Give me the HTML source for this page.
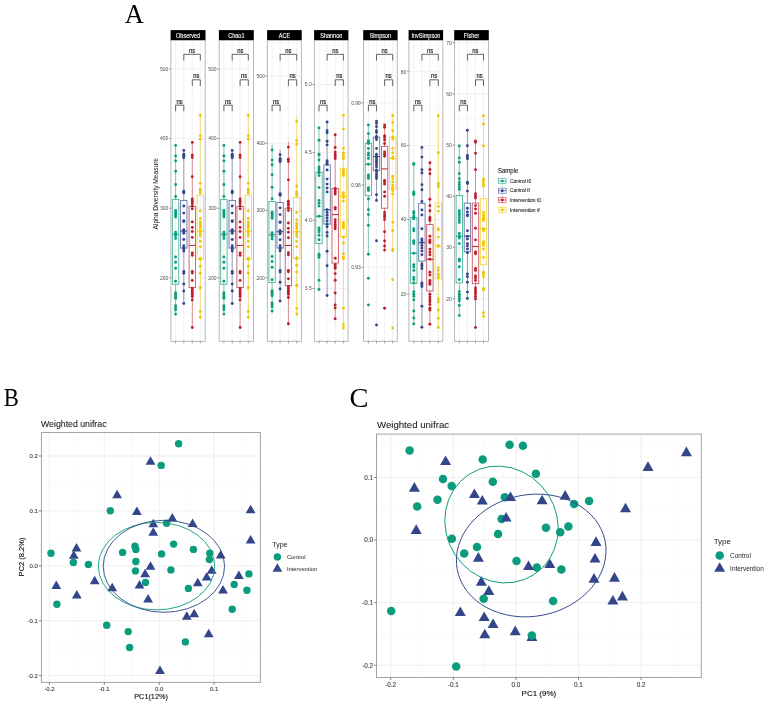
<!DOCTYPE html><html><head><meta charset="utf-8"><style>html,body{margin:0;padding:0;background:#fff;width:768px;height:704px;overflow:hidden}svg{display:block;will-change:transform}</style></head><body>
<svg width="768" height="704" viewBox="0 0 768 704" font-family="Liberation Sans, sans-serif">
<rect width="768" height="704" fill="#fff"/>
<text transform="translate(124.8 22.7) scale(0.975 1)" font-family="Liberation Serif, serif" font-size="27.2" fill="#000">A</text>
<text transform="translate(3.8 405.6) scale(0.875 1)" font-family="Liberation Serif, serif" font-size="26" fill="#000">B</text>
<text transform="translate(349.4 407.0) scale(1.03 1)" font-family="Liberation Serif, serif" font-size="27.6" fill="#000">C</text>
<line x1="170.9" y1="103.8" x2="205.2" y2="103.8" stroke="#F3F3F3" stroke-width="0.5"/>
<line x1="170.9" y1="173.4" x2="205.2" y2="173.4" stroke="#F3F3F3" stroke-width="0.5"/>
<line x1="170.9" y1="243" x2="205.2" y2="243" stroke="#F3F3F3" stroke-width="0.5"/>
<line x1="170.9" y1="312.6" x2="205.2" y2="312.6" stroke="#F3F3F3" stroke-width="0.5"/>
<line x1="170.9" y1="69" x2="205.2" y2="69" stroke="#EBEBEB" stroke-width="0.7"/>
<line x1="170.9" y1="138.6" x2="205.2" y2="138.6" stroke="#EBEBEB" stroke-width="0.7"/>
<line x1="170.9" y1="208.2" x2="205.2" y2="208.2" stroke="#EBEBEB" stroke-width="0.7"/>
<line x1="170.9" y1="277.8" x2="205.2" y2="277.8" stroke="#EBEBEB" stroke-width="0.7"/>
<line x1="175.6" y1="40.5" x2="175.6" y2="341.3" stroke="#EBEBEB" stroke-width="0.7"/>
<line x1="183.8" y1="40.5" x2="183.8" y2="341.3" stroke="#EBEBEB" stroke-width="0.7"/>
<line x1="192.3" y1="40.5" x2="192.3" y2="341.3" stroke="#EBEBEB" stroke-width="0.7"/>
<line x1="200.3" y1="40.5" x2="200.3" y2="341.3" stroke="#EBEBEB" stroke-width="0.7"/>
<rect x="170.6" y="30.1" width="34.9" height="10.4" fill="#000"/>
<text transform="translate(188.05 38.0) scale(1 1.15)" font-size="5.55" fill="#fff" stroke="#fff" stroke-width="0.1" text-anchor="middle">Observed</text>
<rect x="170.9" y="40.5" width="34.3" height="300.8" fill="none" stroke="#B8B8B8" stroke-width="1"/>
<line x1="168.9" y1="69" x2="170.9" y2="69" stroke="#555" stroke-width="0.6"/>
<text x="168.3" y="70.8" font-size="5" fill="#4D4D4D" text-anchor="end">500</text>
<line x1="168.9" y1="138.6" x2="170.9" y2="138.6" stroke="#555" stroke-width="0.6"/>
<text x="168.3" y="140.4" font-size="5" fill="#4D4D4D" text-anchor="end">400</text>
<line x1="168.9" y1="208.2" x2="170.9" y2="208.2" stroke="#555" stroke-width="0.6"/>
<text x="168.3" y="210" font-size="5" fill="#4D4D4D" text-anchor="end">300</text>
<line x1="168.9" y1="277.8" x2="170.9" y2="277.8" stroke="#555" stroke-width="0.6"/>
<text x="168.3" y="279.6" font-size="5" fill="#4D4D4D" text-anchor="end">200</text>
<line x1="175.6" y1="341.3" x2="175.6" y2="343.3" stroke="#555" stroke-width="0.6"/>
<line x1="183.8" y1="341.3" x2="183.8" y2="343.3" stroke="#555" stroke-width="0.6"/>
<line x1="192.3" y1="341.3" x2="192.3" y2="343.3" stroke="#555" stroke-width="0.6"/>
<line x1="200.3" y1="341.3" x2="200.3" y2="343.3" stroke="#555" stroke-width="0.6"/>
<path d="M183.8 60.6V54.3H200.3V60.6" fill="none" stroke="#333" stroke-width="0.75"/>
<text transform="translate(192.05 53) scale(1 1.22)" font-size="5.9" fill="#111" stroke="#111" stroke-width="0.12" text-anchor="middle">ns</text>
<path d="M192.3 86V79.8H200.3V86" fill="none" stroke="#333" stroke-width="0.75"/>
<text transform="translate(196.3 78.3) scale(1 1.22)" font-size="5.9" fill="#111" stroke="#111" stroke-width="0.12" text-anchor="middle">ns</text>
<path d="M175.6 111.3V105.2H183.8V111.3" fill="none" stroke="#333" stroke-width="0.75"/>
<text transform="translate(179.7 103.8) scale(1 1.22)" font-size="5.9" fill="#111" stroke="#111" stroke-width="0.12" text-anchor="middle">ns</text>
<line x1="175.6" y1="145.4" x2="175.6" y2="199.4" stroke="#0A9C7D" stroke-width="0.9" stroke-opacity="0.55"/>
<line x1="175.6" y1="284.3" x2="175.6" y2="314.1" stroke="#0A9C7D" stroke-width="0.9" stroke-opacity="0.55"/>
<rect x="172.4" y="199.4" width="6.4" height="84.9" fill="none" stroke="#0A9C7D" stroke-width="0.9" stroke-opacity="0.75"/>
<line x1="172.4" y1="234.2" x2="178.8" y2="234.2" stroke="#0A9C7D" stroke-width="1"/>
<circle cx="175.6" cy="145.4" r="1.45" fill="#0A9C7D"/>
<circle cx="175.6" cy="156" r="1.45" fill="#0A9C7D"/>
<circle cx="175.6" cy="160.9" r="1.45" fill="#0A9C7D"/>
<circle cx="175.6" cy="171.3" r="1.45" fill="#0A9C7D"/>
<circle cx="175.6" cy="184.5" r="1.45" fill="#0A9C7D"/>
<circle cx="175.6" cy="196.4" r="1.45" fill="#0A9C7D"/>
<circle cx="175.6" cy="210.5" r="1.45" fill="#0A9C7D"/>
<circle cx="175.6" cy="212" r="1.45" fill="#0A9C7D"/>
<circle cx="175.6" cy="213.5" r="1.45" fill="#0A9C7D"/>
<circle cx="175.6" cy="215" r="1.45" fill="#0A9C7D"/>
<circle cx="175.6" cy="217" r="1.45" fill="#0A9C7D"/>
<circle cx="175.6" cy="232.1" r="1.45" fill="#0A9C7D"/>
<circle cx="175.6" cy="234" r="1.45" fill="#0A9C7D"/>
<circle cx="175.6" cy="236" r="1.45" fill="#0A9C7D"/>
<circle cx="175.6" cy="238.6" r="1.45" fill="#0A9C7D"/>
<circle cx="175.6" cy="257" r="1.45" fill="#0A9C7D"/>
<circle cx="175.6" cy="262.3" r="1.45" fill="#0A9C7D"/>
<circle cx="175.6" cy="268.3" r="1.45" fill="#0A9C7D"/>
<circle cx="175.6" cy="281.3" r="1.45" fill="#0A9C7D"/>
<circle cx="175.6" cy="292.8" r="1.45" fill="#0A9C7D"/>
<circle cx="175.6" cy="294.5" r="1.45" fill="#0A9C7D"/>
<circle cx="175.6" cy="296.5" r="1.45" fill="#0A9C7D"/>
<circle cx="175.6" cy="298.2" r="1.45" fill="#0A9C7D"/>
<circle cx="175.6" cy="305.6" r="1.45" fill="#0A9C7D"/>
<circle cx="175.6" cy="307.5" r="1.45" fill="#0A9C7D"/>
<circle cx="175.6" cy="309.7" r="1.45" fill="#0A9C7D"/>
<circle cx="175.6" cy="314.1" r="1.45" fill="#0A9C7D"/>
<line x1="183.8" y1="150.4" x2="183.8" y2="200.4" stroke="#33468A" stroke-width="0.9" stroke-opacity="0.55"/>
<line x1="183.8" y1="248.1" x2="183.8" y2="303.5" stroke="#33468A" stroke-width="0.9" stroke-opacity="0.55"/>
<rect x="180.6" y="200.4" width="6.4" height="47.7" fill="none" stroke="#33468A" stroke-width="0.9" stroke-opacity="0.75"/>
<line x1="180.6" y1="231" x2="187" y2="231" stroke="#33468A" stroke-width="1"/>
<circle cx="183.8" cy="150.4" r="1.45" fill="#33468A"/>
<circle cx="183.8" cy="154.2" r="1.45" fill="#33468A"/>
<circle cx="183.8" cy="155.4" r="1.45" fill="#33468A"/>
<circle cx="183.8" cy="156.5" r="1.45" fill="#33468A"/>
<circle cx="183.8" cy="157.7" r="1.45" fill="#33468A"/>
<circle cx="183.8" cy="191.1" r="1.45" fill="#33468A"/>
<circle cx="183.8" cy="192" r="1.45" fill="#33468A"/>
<circle cx="183.8" cy="192.9" r="1.45" fill="#33468A"/>
<circle cx="183.8" cy="206" r="1.45" fill="#33468A"/>
<circle cx="183.8" cy="213.1" r="1.45" fill="#33468A"/>
<circle cx="183.8" cy="220.7" r="1.45" fill="#33468A"/>
<circle cx="183.8" cy="221.5" r="1.45" fill="#33468A"/>
<circle cx="183.8" cy="229.8" r="1.45" fill="#33468A"/>
<circle cx="183.8" cy="231" r="1.45" fill="#33468A"/>
<circle cx="183.8" cy="232" r="1.45" fill="#33468A"/>
<circle cx="183.8" cy="233.3" r="1.45" fill="#33468A"/>
<circle cx="183.8" cy="239.5" r="1.45" fill="#33468A"/>
<circle cx="183.8" cy="245.8" r="1.45" fill="#33468A"/>
<circle cx="183.8" cy="247.5" r="1.45" fill="#33468A"/>
<circle cx="183.8" cy="249" r="1.45" fill="#33468A"/>
<circle cx="183.8" cy="251" r="1.45" fill="#33468A"/>
<circle cx="183.8" cy="271.5" r="1.45" fill="#33468A"/>
<circle cx="183.8" cy="273.3" r="1.45" fill="#33468A"/>
<circle cx="183.8" cy="284" r="1.45" fill="#33468A"/>
<circle cx="183.8" cy="291" r="1.45" fill="#33468A"/>
<circle cx="183.8" cy="303.5" r="1.45" fill="#33468A"/>
<line x1="192.3" y1="142.4" x2="192.3" y2="206.4" stroke="#BA1E2E" stroke-width="0.9" stroke-opacity="0.55"/>
<line x1="192.3" y1="287.5" x2="192.3" y2="327.5" stroke="#BA1E2E" stroke-width="0.9" stroke-opacity="0.55"/>
<rect x="189.1" y="206.4" width="6.4" height="81.1" fill="none" stroke="#BA1E2E" stroke-width="0.9" stroke-opacity="0.75"/>
<line x1="189.1" y1="245.4" x2="195.5" y2="245.4" stroke="#BA1E2E" stroke-width="1"/>
<circle cx="192.3" cy="142.4" r="1.45" fill="#BA1E2E"/>
<circle cx="192.3" cy="155.1" r="1.45" fill="#BA1E2E"/>
<circle cx="192.3" cy="157.4" r="1.45" fill="#BA1E2E"/>
<circle cx="192.3" cy="176.7" r="1.45" fill="#BA1E2E"/>
<circle cx="192.3" cy="199" r="1.45" fill="#BA1E2E"/>
<circle cx="192.3" cy="201.3" r="1.45" fill="#BA1E2E"/>
<circle cx="192.3" cy="203.4" r="1.45" fill="#BA1E2E"/>
<circle cx="192.3" cy="206" r="1.45" fill="#BA1E2E"/>
<circle cx="192.3" cy="208.7" r="1.45" fill="#BA1E2E"/>
<circle cx="192.3" cy="221.9" r="1.45" fill="#BA1E2E"/>
<circle cx="192.3" cy="227.5" r="1.45" fill="#BA1E2E"/>
<circle cx="192.3" cy="231.5" r="1.45" fill="#BA1E2E"/>
<circle cx="192.3" cy="237.4" r="1.45" fill="#BA1E2E"/>
<circle cx="192.3" cy="252.9" r="1.45" fill="#BA1E2E"/>
<circle cx="192.3" cy="255.2" r="1.45" fill="#BA1E2E"/>
<circle cx="192.3" cy="271.5" r="1.45" fill="#BA1E2E"/>
<circle cx="192.3" cy="273" r="1.45" fill="#BA1E2E"/>
<circle cx="192.3" cy="280.4" r="1.45" fill="#BA1E2E"/>
<circle cx="192.3" cy="288.4" r="1.45" fill="#BA1E2E"/>
<circle cx="192.3" cy="290.5" r="1.45" fill="#BA1E2E"/>
<circle cx="192.3" cy="292.5" r="1.45" fill="#BA1E2E"/>
<circle cx="192.3" cy="294.5" r="1.45" fill="#BA1E2E"/>
<circle cx="192.3" cy="296.5" r="1.45" fill="#BA1E2E"/>
<circle cx="192.3" cy="299.9" r="1.45" fill="#BA1E2E"/>
<circle cx="192.3" cy="327.5" r="1.45" fill="#BA1E2E"/>
<line x1="200.3" y1="115.5" x2="200.3" y2="195.2" stroke="#F2C500" stroke-width="0.9" stroke-opacity="0.55"/>
<line x1="200.3" y1="259.4" x2="200.3" y2="317.3" stroke="#F2C500" stroke-width="0.9" stroke-opacity="0.55"/>
<rect x="197.1" y="195.2" width="6.4" height="64.2" fill="none" stroke="#F2C500" stroke-width="0.9" stroke-opacity="0.75"/>
<line x1="197.1" y1="231" x2="203.5" y2="231" stroke="#F2C500" stroke-width="1"/>
<circle cx="200.3" cy="115.5" r="1.45" fill="#F2C500"/>
<circle cx="200.3" cy="135.8" r="1.45" fill="#F2C500"/>
<circle cx="200.3" cy="139.3" r="1.45" fill="#F2C500"/>
<circle cx="200.3" cy="183.2" r="1.45" fill="#F2C500"/>
<circle cx="200.3" cy="189.4" r="1.45" fill="#F2C500"/>
<circle cx="200.3" cy="191" r="1.45" fill="#F2C500"/>
<circle cx="200.3" cy="192.9" r="1.45" fill="#F2C500"/>
<circle cx="200.3" cy="210.8" r="1.45" fill="#F2C500"/>
<circle cx="200.3" cy="218.4" r="1.45" fill="#F2C500"/>
<circle cx="200.3" cy="221.9" r="1.45" fill="#F2C500"/>
<circle cx="200.3" cy="224" r="1.45" fill="#F2C500"/>
<circle cx="200.3" cy="226" r="1.45" fill="#F2C500"/>
<circle cx="200.3" cy="228" r="1.45" fill="#F2C500"/>
<circle cx="200.3" cy="231" r="1.45" fill="#F2C500"/>
<circle cx="200.3" cy="233.5" r="1.45" fill="#F2C500"/>
<circle cx="200.3" cy="236" r="1.45" fill="#F2C500"/>
<circle cx="200.3" cy="241.3" r="1.45" fill="#F2C500"/>
<circle cx="200.3" cy="246.6" r="1.45" fill="#F2C500"/>
<circle cx="200.3" cy="258.2" r="1.45" fill="#F2C500"/>
<circle cx="200.3" cy="259.4" r="1.45" fill="#F2C500"/>
<circle cx="200.3" cy="266.2" r="1.45" fill="#F2C500"/>
<circle cx="200.3" cy="273.3" r="1.45" fill="#F2C500"/>
<circle cx="200.3" cy="287.1" r="1.45" fill="#F2C500"/>
<circle cx="200.3" cy="287.9" r="1.45" fill="#F2C500"/>
<circle cx="200.3" cy="311.5" r="1.45" fill="#F2C500"/>
<circle cx="200.3" cy="317.3" r="1.45" fill="#F2C500"/>
<line x1="219.2" y1="103.8" x2="253.5" y2="103.8" stroke="#F3F3F3" stroke-width="0.5"/>
<line x1="219.2" y1="173.4" x2="253.5" y2="173.4" stroke="#F3F3F3" stroke-width="0.5"/>
<line x1="219.2" y1="243" x2="253.5" y2="243" stroke="#F3F3F3" stroke-width="0.5"/>
<line x1="219.2" y1="312.6" x2="253.5" y2="312.6" stroke="#F3F3F3" stroke-width="0.5"/>
<line x1="219.2" y1="69" x2="253.5" y2="69" stroke="#EBEBEB" stroke-width="0.7"/>
<line x1="219.2" y1="138.6" x2="253.5" y2="138.6" stroke="#EBEBEB" stroke-width="0.7"/>
<line x1="219.2" y1="208.2" x2="253.5" y2="208.2" stroke="#EBEBEB" stroke-width="0.7"/>
<line x1="219.2" y1="277.8" x2="253.5" y2="277.8" stroke="#EBEBEB" stroke-width="0.7"/>
<line x1="223.9" y1="40.5" x2="223.9" y2="341.3" stroke="#EBEBEB" stroke-width="0.7"/>
<line x1="232.2" y1="40.5" x2="232.2" y2="341.3" stroke="#EBEBEB" stroke-width="0.7"/>
<line x1="240.1" y1="40.5" x2="240.1" y2="341.3" stroke="#EBEBEB" stroke-width="0.7"/>
<line x1="248.3" y1="40.5" x2="248.3" y2="341.3" stroke="#EBEBEB" stroke-width="0.7"/>
<rect x="218.9" y="30.1" width="34.9" height="10.4" fill="#000"/>
<text transform="translate(236.35 38.0) scale(1 1.15)" font-size="5.55" fill="#fff" stroke="#fff" stroke-width="0.1" text-anchor="middle">Chao1</text>
<rect x="219.2" y="40.5" width="34.3" height="300.8" fill="none" stroke="#B8B8B8" stroke-width="1"/>
<line x1="217.2" y1="69" x2="219.2" y2="69" stroke="#555" stroke-width="0.6"/>
<text x="216.6" y="70.8" font-size="5" fill="#4D4D4D" text-anchor="end">500</text>
<line x1="217.2" y1="138.6" x2="219.2" y2="138.6" stroke="#555" stroke-width="0.6"/>
<text x="216.6" y="140.4" font-size="5" fill="#4D4D4D" text-anchor="end">400</text>
<line x1="217.2" y1="208.2" x2="219.2" y2="208.2" stroke="#555" stroke-width="0.6"/>
<text x="216.6" y="210" font-size="5" fill="#4D4D4D" text-anchor="end">300</text>
<line x1="217.2" y1="277.8" x2="219.2" y2="277.8" stroke="#555" stroke-width="0.6"/>
<text x="216.6" y="279.6" font-size="5" fill="#4D4D4D" text-anchor="end">200</text>
<line x1="223.9" y1="341.3" x2="223.9" y2="343.3" stroke="#555" stroke-width="0.6"/>
<line x1="232.2" y1="341.3" x2="232.2" y2="343.3" stroke="#555" stroke-width="0.6"/>
<line x1="240.1" y1="341.3" x2="240.1" y2="343.3" stroke="#555" stroke-width="0.6"/>
<line x1="248.3" y1="341.3" x2="248.3" y2="343.3" stroke="#555" stroke-width="0.6"/>
<path d="M232.2 60.6V54.3H248.3V60.6" fill="none" stroke="#333" stroke-width="0.75"/>
<text transform="translate(240.25 53) scale(1 1.22)" font-size="5.9" fill="#111" stroke="#111" stroke-width="0.12" text-anchor="middle">ns</text>
<path d="M240.1 86V79.8H248.3V86" fill="none" stroke="#333" stroke-width="0.75"/>
<text transform="translate(244.2 78.3) scale(1 1.22)" font-size="5.9" fill="#111" stroke="#111" stroke-width="0.12" text-anchor="middle">ns</text>
<path d="M223.9 111.3V105.2H232.2V111.3" fill="none" stroke="#333" stroke-width="0.75"/>
<text transform="translate(228.05 103.8) scale(1 1.22)" font-size="5.9" fill="#111" stroke="#111" stroke-width="0.12" text-anchor="middle">ns</text>
<line x1="223.9" y1="145.4" x2="223.9" y2="199.4" stroke="#0A9C7D" stroke-width="0.9" stroke-opacity="0.55"/>
<line x1="223.9" y1="284.3" x2="223.9" y2="314.1" stroke="#0A9C7D" stroke-width="0.9" stroke-opacity="0.55"/>
<rect x="220.7" y="199.4" width="6.4" height="84.9" fill="none" stroke="#0A9C7D" stroke-width="0.9" stroke-opacity="0.75"/>
<line x1="220.7" y1="234.2" x2="227.1" y2="234.2" stroke="#0A9C7D" stroke-width="1"/>
<circle cx="223.9" cy="145.4" r="1.45" fill="#0A9C7D"/>
<circle cx="223.9" cy="156" r="1.45" fill="#0A9C7D"/>
<circle cx="223.9" cy="160.9" r="1.45" fill="#0A9C7D"/>
<circle cx="223.9" cy="171.3" r="1.45" fill="#0A9C7D"/>
<circle cx="223.9" cy="184.5" r="1.45" fill="#0A9C7D"/>
<circle cx="223.9" cy="196.4" r="1.45" fill="#0A9C7D"/>
<circle cx="223.9" cy="210.5" r="1.45" fill="#0A9C7D"/>
<circle cx="223.9" cy="212" r="1.45" fill="#0A9C7D"/>
<circle cx="223.9" cy="213.5" r="1.45" fill="#0A9C7D"/>
<circle cx="223.9" cy="215" r="1.45" fill="#0A9C7D"/>
<circle cx="223.9" cy="217" r="1.45" fill="#0A9C7D"/>
<circle cx="223.9" cy="232.1" r="1.45" fill="#0A9C7D"/>
<circle cx="223.9" cy="234" r="1.45" fill="#0A9C7D"/>
<circle cx="223.9" cy="236" r="1.45" fill="#0A9C7D"/>
<circle cx="223.9" cy="238.6" r="1.45" fill="#0A9C7D"/>
<circle cx="223.9" cy="257" r="1.45" fill="#0A9C7D"/>
<circle cx="223.9" cy="262.3" r="1.45" fill="#0A9C7D"/>
<circle cx="223.9" cy="268.3" r="1.45" fill="#0A9C7D"/>
<circle cx="223.9" cy="281.3" r="1.45" fill="#0A9C7D"/>
<circle cx="223.9" cy="292.8" r="1.45" fill="#0A9C7D"/>
<circle cx="223.9" cy="294.5" r="1.45" fill="#0A9C7D"/>
<circle cx="223.9" cy="296.5" r="1.45" fill="#0A9C7D"/>
<circle cx="223.9" cy="298.2" r="1.45" fill="#0A9C7D"/>
<circle cx="223.9" cy="305.6" r="1.45" fill="#0A9C7D"/>
<circle cx="223.9" cy="307.5" r="1.45" fill="#0A9C7D"/>
<circle cx="223.9" cy="309.7" r="1.45" fill="#0A9C7D"/>
<circle cx="223.9" cy="314.1" r="1.45" fill="#0A9C7D"/>
<line x1="232.2" y1="150.4" x2="232.2" y2="200.4" stroke="#33468A" stroke-width="0.9" stroke-opacity="0.55"/>
<line x1="232.2" y1="248.1" x2="232.2" y2="303.5" stroke="#33468A" stroke-width="0.9" stroke-opacity="0.55"/>
<rect x="229" y="200.4" width="6.4" height="47.7" fill="none" stroke="#33468A" stroke-width="0.9" stroke-opacity="0.75"/>
<line x1="229" y1="231" x2="235.4" y2="231" stroke="#33468A" stroke-width="1"/>
<circle cx="232.2" cy="150.4" r="1.45" fill="#33468A"/>
<circle cx="232.2" cy="154.2" r="1.45" fill="#33468A"/>
<circle cx="232.2" cy="155.4" r="1.45" fill="#33468A"/>
<circle cx="232.2" cy="156.5" r="1.45" fill="#33468A"/>
<circle cx="232.2" cy="157.7" r="1.45" fill="#33468A"/>
<circle cx="232.2" cy="191.1" r="1.45" fill="#33468A"/>
<circle cx="232.2" cy="192" r="1.45" fill="#33468A"/>
<circle cx="232.2" cy="192.9" r="1.45" fill="#33468A"/>
<circle cx="232.2" cy="206" r="1.45" fill="#33468A"/>
<circle cx="232.2" cy="213.1" r="1.45" fill="#33468A"/>
<circle cx="232.2" cy="220.7" r="1.45" fill="#33468A"/>
<circle cx="232.2" cy="221.5" r="1.45" fill="#33468A"/>
<circle cx="232.2" cy="229.8" r="1.45" fill="#33468A"/>
<circle cx="232.2" cy="231" r="1.45" fill="#33468A"/>
<circle cx="232.2" cy="232" r="1.45" fill="#33468A"/>
<circle cx="232.2" cy="233.3" r="1.45" fill="#33468A"/>
<circle cx="232.2" cy="239.5" r="1.45" fill="#33468A"/>
<circle cx="232.2" cy="245.8" r="1.45" fill="#33468A"/>
<circle cx="232.2" cy="247.5" r="1.45" fill="#33468A"/>
<circle cx="232.2" cy="249" r="1.45" fill="#33468A"/>
<circle cx="232.2" cy="251" r="1.45" fill="#33468A"/>
<circle cx="232.2" cy="271.5" r="1.45" fill="#33468A"/>
<circle cx="232.2" cy="273.3" r="1.45" fill="#33468A"/>
<circle cx="232.2" cy="284" r="1.45" fill="#33468A"/>
<circle cx="232.2" cy="291" r="1.45" fill="#33468A"/>
<circle cx="232.2" cy="303.5" r="1.45" fill="#33468A"/>
<line x1="240.1" y1="142.4" x2="240.1" y2="206.4" stroke="#BA1E2E" stroke-width="0.9" stroke-opacity="0.55"/>
<line x1="240.1" y1="287.5" x2="240.1" y2="327.5" stroke="#BA1E2E" stroke-width="0.9" stroke-opacity="0.55"/>
<rect x="236.9" y="206.4" width="6.4" height="81.1" fill="none" stroke="#BA1E2E" stroke-width="0.9" stroke-opacity="0.75"/>
<line x1="236.9" y1="245.4" x2="243.3" y2="245.4" stroke="#BA1E2E" stroke-width="1"/>
<circle cx="240.1" cy="142.4" r="1.45" fill="#BA1E2E"/>
<circle cx="240.1" cy="155.1" r="1.45" fill="#BA1E2E"/>
<circle cx="240.1" cy="157.4" r="1.45" fill="#BA1E2E"/>
<circle cx="240.1" cy="176.7" r="1.45" fill="#BA1E2E"/>
<circle cx="240.1" cy="199" r="1.45" fill="#BA1E2E"/>
<circle cx="240.1" cy="201.3" r="1.45" fill="#BA1E2E"/>
<circle cx="240.1" cy="203.4" r="1.45" fill="#BA1E2E"/>
<circle cx="240.1" cy="206" r="1.45" fill="#BA1E2E"/>
<circle cx="240.1" cy="208.7" r="1.45" fill="#BA1E2E"/>
<circle cx="240.1" cy="221.9" r="1.45" fill="#BA1E2E"/>
<circle cx="240.1" cy="227.5" r="1.45" fill="#BA1E2E"/>
<circle cx="240.1" cy="231.5" r="1.45" fill="#BA1E2E"/>
<circle cx="240.1" cy="237.4" r="1.45" fill="#BA1E2E"/>
<circle cx="240.1" cy="252.9" r="1.45" fill="#BA1E2E"/>
<circle cx="240.1" cy="255.2" r="1.45" fill="#BA1E2E"/>
<circle cx="240.1" cy="271.5" r="1.45" fill="#BA1E2E"/>
<circle cx="240.1" cy="273" r="1.45" fill="#BA1E2E"/>
<circle cx="240.1" cy="280.4" r="1.45" fill="#BA1E2E"/>
<circle cx="240.1" cy="288.4" r="1.45" fill="#BA1E2E"/>
<circle cx="240.1" cy="290.5" r="1.45" fill="#BA1E2E"/>
<circle cx="240.1" cy="292.5" r="1.45" fill="#BA1E2E"/>
<circle cx="240.1" cy="294.5" r="1.45" fill="#BA1E2E"/>
<circle cx="240.1" cy="296.5" r="1.45" fill="#BA1E2E"/>
<circle cx="240.1" cy="299.9" r="1.45" fill="#BA1E2E"/>
<circle cx="240.1" cy="327.5" r="1.45" fill="#BA1E2E"/>
<line x1="248.3" y1="115.5" x2="248.3" y2="195.2" stroke="#F2C500" stroke-width="0.9" stroke-opacity="0.55"/>
<line x1="248.3" y1="259.4" x2="248.3" y2="317.3" stroke="#F2C500" stroke-width="0.9" stroke-opacity="0.55"/>
<rect x="245.1" y="195.2" width="6.4" height="64.2" fill="none" stroke="#F2C500" stroke-width="0.9" stroke-opacity="0.75"/>
<line x1="245.1" y1="231" x2="251.5" y2="231" stroke="#F2C500" stroke-width="1"/>
<circle cx="248.3" cy="115.5" r="1.45" fill="#F2C500"/>
<circle cx="248.3" cy="135.8" r="1.45" fill="#F2C500"/>
<circle cx="248.3" cy="139.3" r="1.45" fill="#F2C500"/>
<circle cx="248.3" cy="183.2" r="1.45" fill="#F2C500"/>
<circle cx="248.3" cy="189.4" r="1.45" fill="#F2C500"/>
<circle cx="248.3" cy="191" r="1.45" fill="#F2C500"/>
<circle cx="248.3" cy="192.9" r="1.45" fill="#F2C500"/>
<circle cx="248.3" cy="210.8" r="1.45" fill="#F2C500"/>
<circle cx="248.3" cy="218.4" r="1.45" fill="#F2C500"/>
<circle cx="248.3" cy="221.9" r="1.45" fill="#F2C500"/>
<circle cx="248.3" cy="224" r="1.45" fill="#F2C500"/>
<circle cx="248.3" cy="226" r="1.45" fill="#F2C500"/>
<circle cx="248.3" cy="228" r="1.45" fill="#F2C500"/>
<circle cx="248.3" cy="231" r="1.45" fill="#F2C500"/>
<circle cx="248.3" cy="233.5" r="1.45" fill="#F2C500"/>
<circle cx="248.3" cy="236" r="1.45" fill="#F2C500"/>
<circle cx="248.3" cy="241.3" r="1.45" fill="#F2C500"/>
<circle cx="248.3" cy="246.6" r="1.45" fill="#F2C500"/>
<circle cx="248.3" cy="258.2" r="1.45" fill="#F2C500"/>
<circle cx="248.3" cy="259.4" r="1.45" fill="#F2C500"/>
<circle cx="248.3" cy="266.2" r="1.45" fill="#F2C500"/>
<circle cx="248.3" cy="273.3" r="1.45" fill="#F2C500"/>
<circle cx="248.3" cy="287.1" r="1.45" fill="#F2C500"/>
<circle cx="248.3" cy="287.9" r="1.45" fill="#F2C500"/>
<circle cx="248.3" cy="311.5" r="1.45" fill="#F2C500"/>
<circle cx="248.3" cy="317.3" r="1.45" fill="#F2C500"/>
<line x1="267.4" y1="42.5" x2="301.4" y2="42.5" stroke="#F3F3F3" stroke-width="0.5"/>
<line x1="267.4" y1="109.7" x2="301.4" y2="109.7" stroke="#F3F3F3" stroke-width="0.5"/>
<line x1="267.4" y1="176.9" x2="301.4" y2="176.9" stroke="#F3F3F3" stroke-width="0.5"/>
<line x1="267.4" y1="244.1" x2="301.4" y2="244.1" stroke="#F3F3F3" stroke-width="0.5"/>
<line x1="267.4" y1="311.3" x2="301.4" y2="311.3" stroke="#F3F3F3" stroke-width="0.5"/>
<line x1="267.4" y1="76.1" x2="301.4" y2="76.1" stroke="#EBEBEB" stroke-width="0.7"/>
<line x1="267.4" y1="143.3" x2="301.4" y2="143.3" stroke="#EBEBEB" stroke-width="0.7"/>
<line x1="267.4" y1="210.5" x2="301.4" y2="210.5" stroke="#EBEBEB" stroke-width="0.7"/>
<line x1="267.4" y1="277.7" x2="301.4" y2="277.7" stroke="#EBEBEB" stroke-width="0.7"/>
<line x1="272.1" y1="40.5" x2="272.1" y2="341.3" stroke="#EBEBEB" stroke-width="0.7"/>
<line x1="280.1" y1="40.5" x2="280.1" y2="341.3" stroke="#EBEBEB" stroke-width="0.7"/>
<line x1="288.4" y1="40.5" x2="288.4" y2="341.3" stroke="#EBEBEB" stroke-width="0.7"/>
<line x1="296.7" y1="40.5" x2="296.7" y2="341.3" stroke="#EBEBEB" stroke-width="0.7"/>
<rect x="267.1" y="30.1" width="34.6" height="10.4" fill="#000"/>
<text transform="translate(284.4 38.0) scale(1 1.15)" font-size="5.55" fill="#fff" stroke="#fff" stroke-width="0.1" text-anchor="middle">ACE</text>
<rect x="267.4" y="40.5" width="34" height="300.8" fill="none" stroke="#B8B8B8" stroke-width="1"/>
<line x1="265.4" y1="76.1" x2="267.4" y2="76.1" stroke="#555" stroke-width="0.6"/>
<text x="264.8" y="77.9" font-size="5" fill="#4D4D4D" text-anchor="end">500</text>
<line x1="265.4" y1="143.3" x2="267.4" y2="143.3" stroke="#555" stroke-width="0.6"/>
<text x="264.8" y="145.1" font-size="5" fill="#4D4D4D" text-anchor="end">400</text>
<line x1="265.4" y1="210.5" x2="267.4" y2="210.5" stroke="#555" stroke-width="0.6"/>
<text x="264.8" y="212.3" font-size="5" fill="#4D4D4D" text-anchor="end">300</text>
<line x1="265.4" y1="277.7" x2="267.4" y2="277.7" stroke="#555" stroke-width="0.6"/>
<text x="264.8" y="279.5" font-size="5" fill="#4D4D4D" text-anchor="end">200</text>
<line x1="272.1" y1="341.3" x2="272.1" y2="343.3" stroke="#555" stroke-width="0.6"/>
<line x1="280.1" y1="341.3" x2="280.1" y2="343.3" stroke="#555" stroke-width="0.6"/>
<line x1="288.4" y1="341.3" x2="288.4" y2="343.3" stroke="#555" stroke-width="0.6"/>
<line x1="296.7" y1="341.3" x2="296.7" y2="343.3" stroke="#555" stroke-width="0.6"/>
<path d="M280.1 60.6V54.3H296.7V60.6" fill="none" stroke="#333" stroke-width="0.75"/>
<text transform="translate(288.4 53) scale(1 1.22)" font-size="5.9" fill="#111" stroke="#111" stroke-width="0.12" text-anchor="middle">ns</text>
<path d="M288.4 86V79.8H296.7V86" fill="none" stroke="#333" stroke-width="0.75"/>
<text transform="translate(292.55 78.3) scale(1 1.22)" font-size="5.9" fill="#111" stroke="#111" stroke-width="0.12" text-anchor="middle">ns</text>
<path d="M272.1 111.3V105.2H280.1V111.3" fill="none" stroke="#333" stroke-width="0.75"/>
<text transform="translate(276.1 103.8) scale(1 1.22)" font-size="5.9" fill="#111" stroke="#111" stroke-width="0.12" text-anchor="middle">ns</text>
<line x1="272.1" y1="144.68" x2="272.1" y2="201.53" stroke="#0A9C7D" stroke-width="0.9" stroke-opacity="0.55"/>
<line x1="272.1" y1="282.57" x2="272.1" y2="312.81" stroke="#0A9C7D" stroke-width="0.9" stroke-opacity="0.55"/>
<rect x="268.9" y="201.53" width="6.4" height="81.04" fill="none" stroke="#0A9C7D" stroke-width="0.9" stroke-opacity="0.75"/>
<line x1="268.9" y1="234.75" x2="275.3" y2="234.75" stroke="#0A9C7D" stroke-width="1"/>
<circle cx="272.1" cy="149.98" r="1.45" fill="#0A9C7D"/>
<circle cx="272.1" cy="160.1" r="1.45" fill="#0A9C7D"/>
<circle cx="272.1" cy="164.78" r="1.45" fill="#0A9C7D"/>
<circle cx="272.1" cy="174.7" r="1.45" fill="#0A9C7D"/>
<circle cx="272.1" cy="187.3" r="1.45" fill="#0A9C7D"/>
<circle cx="272.1" cy="198.66" r="1.45" fill="#0A9C7D"/>
<circle cx="272.1" cy="212.12" r="1.45" fill="#0A9C7D"/>
<circle cx="272.1" cy="213.55" r="1.45" fill="#0A9C7D"/>
<circle cx="272.1" cy="214.99" r="1.45" fill="#0A9C7D"/>
<circle cx="272.1" cy="216.42" r="1.45" fill="#0A9C7D"/>
<circle cx="272.1" cy="218.33" r="1.45" fill="#0A9C7D"/>
<circle cx="272.1" cy="232.74" r="1.45" fill="#0A9C7D"/>
<circle cx="272.1" cy="234.55" r="1.45" fill="#0A9C7D"/>
<circle cx="272.1" cy="236.46" r="1.45" fill="#0A9C7D"/>
<circle cx="272.1" cy="238.95" r="1.45" fill="#0A9C7D"/>
<circle cx="272.1" cy="256.51" r="1.45" fill="#0A9C7D"/>
<circle cx="272.1" cy="261.57" r="1.45" fill="#0A9C7D"/>
<circle cx="272.1" cy="267.3" r="1.45" fill="#0A9C7D"/>
<circle cx="272.1" cy="279.7" r="1.45" fill="#0A9C7D"/>
<circle cx="272.1" cy="290.68" r="1.45" fill="#0A9C7D"/>
<circle cx="272.1" cy="292.3" r="1.45" fill="#0A9C7D"/>
<circle cx="272.1" cy="294.21" r="1.45" fill="#0A9C7D"/>
<circle cx="272.1" cy="295.84" r="1.45" fill="#0A9C7D"/>
<circle cx="272.1" cy="302.9" r="1.45" fill="#0A9C7D"/>
<circle cx="272.1" cy="304.71" r="1.45" fill="#0A9C7D"/>
<circle cx="272.1" cy="306.81" r="1.45" fill="#0A9C7D"/>
<circle cx="272.1" cy="311.01" r="1.45" fill="#0A9C7D"/>
<line x1="280.1" y1="149.45" x2="280.1" y2="202.48" stroke="#33468A" stroke-width="0.9" stroke-opacity="0.55"/>
<line x1="280.1" y1="248.01" x2="280.1" y2="302.7" stroke="#33468A" stroke-width="0.9" stroke-opacity="0.55"/>
<rect x="276.9" y="202.48" width="6.4" height="45.53" fill="none" stroke="#33468A" stroke-width="0.9" stroke-opacity="0.75"/>
<line x1="276.9" y1="231.69" x2="283.3" y2="231.69" stroke="#33468A" stroke-width="1"/>
<circle cx="280.1" cy="154.75" r="1.45" fill="#33468A"/>
<circle cx="280.1" cy="158.38" r="1.45" fill="#33468A"/>
<circle cx="280.1" cy="159.53" r="1.45" fill="#33468A"/>
<circle cx="280.1" cy="160.58" r="1.45" fill="#33468A"/>
<circle cx="280.1" cy="161.72" r="1.45" fill="#33468A"/>
<circle cx="280.1" cy="193.6" r="1.45" fill="#33468A"/>
<circle cx="280.1" cy="194.46" r="1.45" fill="#33468A"/>
<circle cx="280.1" cy="195.32" r="1.45" fill="#33468A"/>
<circle cx="280.1" cy="207.83" r="1.45" fill="#33468A"/>
<circle cx="280.1" cy="214.6" r="1.45" fill="#33468A"/>
<circle cx="280.1" cy="221.86" r="1.45" fill="#33468A"/>
<circle cx="280.1" cy="222.62" r="1.45" fill="#33468A"/>
<circle cx="280.1" cy="230.55" r="1.45" fill="#33468A"/>
<circle cx="280.1" cy="231.69" r="1.45" fill="#33468A"/>
<circle cx="280.1" cy="232.65" r="1.45" fill="#33468A"/>
<circle cx="280.1" cy="233.89" r="1.45" fill="#33468A"/>
<circle cx="280.1" cy="239.8" r="1.45" fill="#33468A"/>
<circle cx="280.1" cy="245.82" r="1.45" fill="#33468A"/>
<circle cx="280.1" cy="247.44" r="1.45" fill="#33468A"/>
<circle cx="280.1" cy="248.87" r="1.45" fill="#33468A"/>
<circle cx="280.1" cy="250.78" r="1.45" fill="#33468A"/>
<circle cx="280.1" cy="270.35" r="1.45" fill="#33468A"/>
<circle cx="280.1" cy="272.07" r="1.45" fill="#33468A"/>
<circle cx="280.1" cy="282.28" r="1.45" fill="#33468A"/>
<circle cx="280.1" cy="288.96" r="1.45" fill="#33468A"/>
<circle cx="280.1" cy="300.9" r="1.45" fill="#33468A"/>
<line x1="288.4" y1="141.82" x2="288.4" y2="208.21" stroke="#BA1E2E" stroke-width="0.9" stroke-opacity="0.55"/>
<line x1="288.4" y1="285.62" x2="288.4" y2="325.6" stroke="#BA1E2E" stroke-width="0.9" stroke-opacity="0.55"/>
<rect x="285.2" y="208.21" width="6.4" height="77.41" fill="none" stroke="#BA1E2E" stroke-width="0.9" stroke-opacity="0.75"/>
<line x1="285.2" y1="245.44" x2="291.6" y2="245.44" stroke="#BA1E2E" stroke-width="1"/>
<circle cx="288.4" cy="147.12" r="1.45" fill="#BA1E2E"/>
<circle cx="288.4" cy="159.24" r="1.45" fill="#BA1E2E"/>
<circle cx="288.4" cy="161.44" r="1.45" fill="#BA1E2E"/>
<circle cx="288.4" cy="179.86" r="1.45" fill="#BA1E2E"/>
<circle cx="288.4" cy="201.15" r="1.45" fill="#BA1E2E"/>
<circle cx="288.4" cy="203.34" r="1.45" fill="#BA1E2E"/>
<circle cx="288.4" cy="205.35" r="1.45" fill="#BA1E2E"/>
<circle cx="288.4" cy="207.83" r="1.45" fill="#BA1E2E"/>
<circle cx="288.4" cy="210.4" r="1.45" fill="#BA1E2E"/>
<circle cx="288.4" cy="223" r="1.45" fill="#BA1E2E"/>
<circle cx="288.4" cy="228.35" r="1.45" fill="#BA1E2E"/>
<circle cx="288.4" cy="232.17" r="1.45" fill="#BA1E2E"/>
<circle cx="288.4" cy="237.8" r="1.45" fill="#BA1E2E"/>
<circle cx="288.4" cy="252.6" r="1.45" fill="#BA1E2E"/>
<circle cx="288.4" cy="254.79" r="1.45" fill="#BA1E2E"/>
<circle cx="288.4" cy="270.35" r="1.45" fill="#BA1E2E"/>
<circle cx="288.4" cy="271.78" r="1.45" fill="#BA1E2E"/>
<circle cx="288.4" cy="278.85" r="1.45" fill="#BA1E2E"/>
<circle cx="288.4" cy="286.48" r="1.45" fill="#BA1E2E"/>
<circle cx="288.4" cy="288.49" r="1.45" fill="#BA1E2E"/>
<circle cx="288.4" cy="290.4" r="1.45" fill="#BA1E2E"/>
<circle cx="288.4" cy="292.3" r="1.45" fill="#BA1E2E"/>
<circle cx="288.4" cy="294.21" r="1.45" fill="#BA1E2E"/>
<circle cx="288.4" cy="297.46" r="1.45" fill="#BA1E2E"/>
<circle cx="288.4" cy="323.8" r="1.45" fill="#BA1E2E"/>
<line x1="296.7" y1="116.14" x2="296.7" y2="197.52" stroke="#F2C500" stroke-width="0.9" stroke-opacity="0.55"/>
<line x1="296.7" y1="258.8" x2="296.7" y2="315.87" stroke="#F2C500" stroke-width="0.9" stroke-opacity="0.55"/>
<rect x="293.5" y="197.52" width="6.4" height="61.28" fill="none" stroke="#F2C500" stroke-width="0.9" stroke-opacity="0.75"/>
<line x1="293.5" y1="231.69" x2="299.9" y2="231.69" stroke="#F2C500" stroke-width="1"/>
<circle cx="296.7" cy="121.44" r="1.45" fill="#F2C500"/>
<circle cx="296.7" cy="140.82" r="1.45" fill="#F2C500"/>
<circle cx="296.7" cy="144.16" r="1.45" fill="#F2C500"/>
<circle cx="296.7" cy="186.06" r="1.45" fill="#F2C500"/>
<circle cx="296.7" cy="191.98" r="1.45" fill="#F2C500"/>
<circle cx="296.7" cy="193.51" r="1.45" fill="#F2C500"/>
<circle cx="296.7" cy="195.32" r="1.45" fill="#F2C500"/>
<circle cx="296.7" cy="212.41" r="1.45" fill="#F2C500"/>
<circle cx="296.7" cy="219.66" r="1.45" fill="#F2C500"/>
<circle cx="296.7" cy="223" r="1.45" fill="#F2C500"/>
<circle cx="296.7" cy="225.01" r="1.45" fill="#F2C500"/>
<circle cx="296.7" cy="226.92" r="1.45" fill="#F2C500"/>
<circle cx="296.7" cy="228.83" r="1.45" fill="#F2C500"/>
<circle cx="296.7" cy="231.69" r="1.45" fill="#F2C500"/>
<circle cx="296.7" cy="234.08" r="1.45" fill="#F2C500"/>
<circle cx="296.7" cy="236.46" r="1.45" fill="#F2C500"/>
<circle cx="296.7" cy="241.52" r="1.45" fill="#F2C500"/>
<circle cx="296.7" cy="246.58" r="1.45" fill="#F2C500"/>
<circle cx="296.7" cy="257.65" r="1.45" fill="#F2C500"/>
<circle cx="296.7" cy="258.8" r="1.45" fill="#F2C500"/>
<circle cx="296.7" cy="265.29" r="1.45" fill="#F2C500"/>
<circle cx="296.7" cy="272.07" r="1.45" fill="#F2C500"/>
<circle cx="296.7" cy="285.24" r="1.45" fill="#F2C500"/>
<circle cx="296.7" cy="286" r="1.45" fill="#F2C500"/>
<circle cx="296.7" cy="308.53" r="1.45" fill="#F2C500"/>
<circle cx="296.7" cy="314.07" r="1.45" fill="#F2C500"/>
<line x1="314.4" y1="50.5" x2="348.1" y2="50.5" stroke="#F3F3F3" stroke-width="0.5"/>
<line x1="314.4" y1="118.5" x2="348.1" y2="118.5" stroke="#F3F3F3" stroke-width="0.5"/>
<line x1="314.4" y1="186.4" x2="348.1" y2="186.4" stroke="#F3F3F3" stroke-width="0.5"/>
<line x1="314.4" y1="254.4" x2="348.1" y2="254.4" stroke="#F3F3F3" stroke-width="0.5"/>
<line x1="314.4" y1="322.5" x2="348.1" y2="322.5" stroke="#F3F3F3" stroke-width="0.5"/>
<line x1="314.4" y1="84.5" x2="348.1" y2="84.5" stroke="#EBEBEB" stroke-width="0.7"/>
<line x1="314.4" y1="152.5" x2="348.1" y2="152.5" stroke="#EBEBEB" stroke-width="0.7"/>
<line x1="314.4" y1="220.3" x2="348.1" y2="220.3" stroke="#EBEBEB" stroke-width="0.7"/>
<line x1="314.4" y1="288.5" x2="348.1" y2="288.5" stroke="#EBEBEB" stroke-width="0.7"/>
<line x1="319" y1="40.5" x2="319" y2="341.3" stroke="#EBEBEB" stroke-width="0.7"/>
<line x1="327.1" y1="40.5" x2="327.1" y2="341.3" stroke="#EBEBEB" stroke-width="0.7"/>
<line x1="335.2" y1="40.5" x2="335.2" y2="341.3" stroke="#EBEBEB" stroke-width="0.7"/>
<line x1="343.4" y1="40.5" x2="343.4" y2="341.3" stroke="#EBEBEB" stroke-width="0.7"/>
<rect x="314.1" y="30.1" width="34.3" height="10.4" fill="#000"/>
<text transform="translate(331.25 38.0) scale(1 1.15)" font-size="5.55" fill="#fff" stroke="#fff" stroke-width="0.1" text-anchor="middle">Shannon</text>
<rect x="314.4" y="40.5" width="33.7" height="300.8" fill="none" stroke="#B8B8B8" stroke-width="1"/>
<line x1="312.4" y1="84.5" x2="314.4" y2="84.5" stroke="#555" stroke-width="0.6"/>
<text x="311.8" y="86.3" font-size="5" fill="#4D4D4D" text-anchor="end">5.0</text>
<line x1="312.4" y1="152.5" x2="314.4" y2="152.5" stroke="#555" stroke-width="0.6"/>
<text x="311.8" y="154.3" font-size="5" fill="#4D4D4D" text-anchor="end">4.5</text>
<line x1="312.4" y1="220.3" x2="314.4" y2="220.3" stroke="#555" stroke-width="0.6"/>
<text x="311.8" y="222.1" font-size="5" fill="#4D4D4D" text-anchor="end">4.0</text>
<line x1="312.4" y1="288.5" x2="314.4" y2="288.5" stroke="#555" stroke-width="0.6"/>
<text x="311.8" y="290.3" font-size="5" fill="#4D4D4D" text-anchor="end">3.5</text>
<line x1="319" y1="341.3" x2="319" y2="343.3" stroke="#555" stroke-width="0.6"/>
<line x1="327.1" y1="341.3" x2="327.1" y2="343.3" stroke="#555" stroke-width="0.6"/>
<line x1="335.2" y1="341.3" x2="335.2" y2="343.3" stroke="#555" stroke-width="0.6"/>
<line x1="343.4" y1="341.3" x2="343.4" y2="343.3" stroke="#555" stroke-width="0.6"/>
<path d="M327.1 60.6V54.3H343.4V60.6" fill="none" stroke="#333" stroke-width="0.75"/>
<text transform="translate(335.25 53) scale(1 1.22)" font-size="5.9" fill="#111" stroke="#111" stroke-width="0.12" text-anchor="middle">ns</text>
<path d="M335.2 86V79.8H343.4V86" fill="none" stroke="#333" stroke-width="0.75"/>
<text transform="translate(339.3 78.3) scale(1 1.22)" font-size="5.9" fill="#111" stroke="#111" stroke-width="0.12" text-anchor="middle">ns</text>
<path d="M319 111.3V105.2H327.1V111.3" fill="none" stroke="#333" stroke-width="0.75"/>
<text transform="translate(323.05 103.8) scale(1 1.22)" font-size="5.9" fill="#111" stroke="#111" stroke-width="0.12" text-anchor="middle">ns</text>
<line x1="319" y1="127.9" x2="319" y2="172.3" stroke="#0A9C7D" stroke-width="0.9" stroke-opacity="0.55"/>
<line x1="319" y1="243.5" x2="319" y2="289.5" stroke="#0A9C7D" stroke-width="0.9" stroke-opacity="0.55"/>
<rect x="315.8" y="172.3" width="6.4" height="71.2" fill="none" stroke="#0A9C7D" stroke-width="0.9" stroke-opacity="0.75"/>
<line x1="315.8" y1="216.3" x2="322.2" y2="216.3" stroke="#0A9C7D" stroke-width="1"/>
<circle cx="319" cy="127.9" r="1.45" fill="#0A9C7D"/>
<circle cx="319" cy="140.2" r="1.45" fill="#0A9C7D"/>
<circle cx="319" cy="154.3" r="1.45" fill="#0A9C7D"/>
<circle cx="319" cy="155" r="1.45" fill="#0A9C7D"/>
<circle cx="319" cy="160" r="1.45" fill="#0A9C7D"/>
<circle cx="319" cy="167" r="1.45" fill="#0A9C7D"/>
<circle cx="319" cy="169" r="1.45" fill="#0A9C7D"/>
<circle cx="319" cy="171" r="1.45" fill="#0A9C7D"/>
<circle cx="319" cy="173" r="1.45" fill="#0A9C7D"/>
<circle cx="319" cy="175.6" r="1.45" fill="#0A9C7D"/>
<circle cx="319" cy="187.6" r="1.45" fill="#0A9C7D"/>
<circle cx="319" cy="200.4" r="1.45" fill="#0A9C7D"/>
<circle cx="319" cy="203.3" r="1.45" fill="#0A9C7D"/>
<circle cx="319" cy="206.1" r="1.45" fill="#0A9C7D"/>
<circle cx="319" cy="216.3" r="1.45" fill="#0A9C7D"/>
<circle cx="319" cy="228" r="1.45" fill="#0A9C7D"/>
<circle cx="319" cy="230" r="1.45" fill="#0A9C7D"/>
<circle cx="319" cy="232" r="1.45" fill="#0A9C7D"/>
<circle cx="319" cy="235.2" r="1.45" fill="#0A9C7D"/>
<circle cx="319" cy="239.8" r="1.45" fill="#0A9C7D"/>
<circle cx="319" cy="254.2" r="1.45" fill="#0A9C7D"/>
<circle cx="319" cy="255.5" r="1.45" fill="#0A9C7D"/>
<circle cx="319" cy="257.2" r="1.45" fill="#0A9C7D"/>
<circle cx="319" cy="280.3" r="1.45" fill="#0A9C7D"/>
<circle cx="319" cy="289.5" r="1.45" fill="#0A9C7D"/>
<line x1="327.1" y1="122" x2="327.1" y2="164.9" stroke="#33468A" stroke-width="0.9" stroke-opacity="0.55"/>
<line x1="327.1" y1="224.1" x2="327.1" y2="295.5" stroke="#33468A" stroke-width="0.9" stroke-opacity="0.55"/>
<rect x="323.9" y="164.9" width="6.4" height="59.2" fill="none" stroke="#33468A" stroke-width="0.9" stroke-opacity="0.75"/>
<line x1="323.9" y1="209.7" x2="330.3" y2="209.7" stroke="#33468A" stroke-width="1"/>
<circle cx="327.1" cy="122" r="1.45" fill="#33468A"/>
<circle cx="327.1" cy="130.8" r="1.45" fill="#33468A"/>
<circle cx="327.1" cy="132.8" r="1.45" fill="#33468A"/>
<circle cx="327.1" cy="141.2" r="1.45" fill="#33468A"/>
<circle cx="327.1" cy="144.9" r="1.45" fill="#33468A"/>
<circle cx="327.1" cy="160.7" r="1.45" fill="#33468A"/>
<circle cx="327.1" cy="162.5" r="1.45" fill="#33468A"/>
<circle cx="327.1" cy="164.2" r="1.45" fill="#33468A"/>
<circle cx="327.1" cy="169.9" r="1.45" fill="#33468A"/>
<circle cx="327.1" cy="179.1" r="1.45" fill="#33468A"/>
<circle cx="327.1" cy="184.1" r="1.45" fill="#33468A"/>
<circle cx="327.1" cy="188.1" r="1.45" fill="#33468A"/>
<circle cx="327.1" cy="191.9" r="1.45" fill="#33468A"/>
<circle cx="327.1" cy="209.7" r="1.45" fill="#33468A"/>
<circle cx="327.1" cy="212.5" r="1.45" fill="#33468A"/>
<circle cx="327.1" cy="215.3" r="1.45" fill="#33468A"/>
<circle cx="327.1" cy="218" r="1.45" fill="#33468A"/>
<circle cx="327.1" cy="221" r="1.45" fill="#33468A"/>
<circle cx="327.1" cy="224" r="1.45" fill="#33468A"/>
<circle cx="327.1" cy="226.7" r="1.45" fill="#33468A"/>
<circle cx="327.1" cy="232.4" r="1.45" fill="#33468A"/>
<circle cx="327.1" cy="235.9" r="1.45" fill="#33468A"/>
<circle cx="327.1" cy="251.2" r="1.45" fill="#33468A"/>
<circle cx="327.1" cy="265.7" r="1.45" fill="#33468A"/>
<circle cx="327.1" cy="295.5" r="1.45" fill="#33468A"/>
<line x1="335.2" y1="134.7" x2="335.2" y2="188.4" stroke="#BA1E2E" stroke-width="0.9" stroke-opacity="0.55"/>
<line x1="335.2" y1="263.1" x2="335.2" y2="318.7" stroke="#BA1E2E" stroke-width="0.9" stroke-opacity="0.55"/>
<rect x="332" y="188.4" width="6.4" height="74.7" fill="none" stroke="#BA1E2E" stroke-width="0.9" stroke-opacity="0.75"/>
<line x1="332" y1="214.6" x2="338.4" y2="214.6" stroke="#BA1E2E" stroke-width="1"/>
<circle cx="335.2" cy="134.7" r="1.45" fill="#BA1E2E"/>
<circle cx="335.2" cy="147.4" r="1.45" fill="#BA1E2E"/>
<circle cx="335.2" cy="152.1" r="1.45" fill="#BA1E2E"/>
<circle cx="335.2" cy="154.5" r="1.45" fill="#BA1E2E"/>
<circle cx="335.2" cy="156.4" r="1.45" fill="#BA1E2E"/>
<circle cx="335.2" cy="158.5" r="1.45" fill="#BA1E2E"/>
<circle cx="335.2" cy="188.4" r="1.45" fill="#BA1E2E"/>
<circle cx="335.2" cy="190" r="1.45" fill="#BA1E2E"/>
<circle cx="335.2" cy="192" r="1.45" fill="#BA1E2E"/>
<circle cx="335.2" cy="194" r="1.45" fill="#BA1E2E"/>
<circle cx="335.2" cy="207.5" r="1.45" fill="#BA1E2E"/>
<circle cx="335.2" cy="209" r="1.45" fill="#BA1E2E"/>
<circle cx="335.2" cy="219.6" r="1.45" fill="#BA1E2E"/>
<circle cx="335.2" cy="222" r="1.45" fill="#BA1E2E"/>
<circle cx="335.2" cy="224.5" r="1.45" fill="#BA1E2E"/>
<circle cx="335.2" cy="226.8" r="1.45" fill="#BA1E2E"/>
<circle cx="335.2" cy="228.8" r="1.45" fill="#BA1E2E"/>
<circle cx="335.2" cy="258.2" r="1.45" fill="#BA1E2E"/>
<circle cx="335.2" cy="264.6" r="1.45" fill="#BA1E2E"/>
<circle cx="335.2" cy="266.5" r="1.45" fill="#BA1E2E"/>
<circle cx="335.2" cy="268.3" r="1.45" fill="#BA1E2E"/>
<circle cx="335.2" cy="273.6" r="1.45" fill="#BA1E2E"/>
<circle cx="335.2" cy="280.3" r="1.45" fill="#BA1E2E"/>
<circle cx="335.2" cy="293" r="1.45" fill="#BA1E2E"/>
<circle cx="335.2" cy="304.9" r="1.45" fill="#BA1E2E"/>
<circle cx="335.2" cy="307.9" r="1.45" fill="#BA1E2E"/>
<circle cx="335.2" cy="318.7" r="1.45" fill="#BA1E2E"/>
<line x1="343.4" y1="115.2" x2="343.4" y2="168.2" stroke="#F2C500" stroke-width="0.9" stroke-opacity="0.55"/>
<line x1="343.4" y1="236.9" x2="343.4" y2="328" stroke="#F2C500" stroke-width="0.9" stroke-opacity="0.55"/>
<rect x="340.2" y="168.2" width="6.4" height="68.7" fill="none" stroke="#F2C500" stroke-width="0.9" stroke-opacity="0.75"/>
<line x1="340.2" y1="196.2" x2="346.6" y2="196.2" stroke="#F2C500" stroke-width="1"/>
<circle cx="343.4" cy="115.2" r="1.45" fill="#F2C500"/>
<circle cx="343.4" cy="128.9" r="1.45" fill="#F2C500"/>
<circle cx="343.4" cy="148.4" r="1.45" fill="#F2C500"/>
<circle cx="343.4" cy="152.9" r="1.45" fill="#F2C500"/>
<circle cx="343.4" cy="155" r="1.45" fill="#F2C500"/>
<circle cx="343.4" cy="157.2" r="1.45" fill="#F2C500"/>
<circle cx="343.4" cy="158.5" r="1.45" fill="#F2C500"/>
<circle cx="343.4" cy="169.9" r="1.45" fill="#F2C500"/>
<circle cx="343.4" cy="172" r="1.45" fill="#F2C500"/>
<circle cx="343.4" cy="174" r="1.45" fill="#F2C500"/>
<circle cx="343.4" cy="175.6" r="1.45" fill="#F2C500"/>
<circle cx="343.4" cy="192.6" r="1.45" fill="#F2C500"/>
<circle cx="343.4" cy="195" r="1.45" fill="#F2C500"/>
<circle cx="343.4" cy="197.5" r="1.45" fill="#F2C500"/>
<circle cx="343.4" cy="201.1" r="1.45" fill="#F2C500"/>
<circle cx="343.4" cy="222.4" r="1.45" fill="#F2C500"/>
<circle cx="343.4" cy="224.5" r="1.45" fill="#F2C500"/>
<circle cx="343.4" cy="226.5" r="1.45" fill="#F2C500"/>
<circle cx="343.4" cy="228.1" r="1.45" fill="#F2C500"/>
<circle cx="343.4" cy="236.9" r="1.45" fill="#F2C500"/>
<circle cx="343.4" cy="243" r="1.45" fill="#F2C500"/>
<circle cx="343.4" cy="253.7" r="1.45" fill="#F2C500"/>
<circle cx="343.4" cy="257.2" r="1.45" fill="#F2C500"/>
<circle cx="343.4" cy="258.6" r="1.45" fill="#F2C500"/>
<circle cx="343.4" cy="308.2" r="1.45" fill="#F2C500"/>
<circle cx="343.4" cy="324.7" r="1.45" fill="#F2C500"/>
<circle cx="343.4" cy="328" r="1.45" fill="#F2C500"/>
<line x1="363.5" y1="61.95" x2="397.3" y2="61.95" stroke="#F3F3F3" stroke-width="0.5"/>
<line x1="363.5" y1="143.85" x2="397.3" y2="143.85" stroke="#F3F3F3" stroke-width="0.5"/>
<line x1="363.5" y1="226.05" x2="397.3" y2="226.05" stroke="#F3F3F3" stroke-width="0.5"/>
<line x1="363.5" y1="308.25" x2="397.3" y2="308.25" stroke="#F3F3F3" stroke-width="0.5"/>
<line x1="363.5" y1="102.9" x2="397.3" y2="102.9" stroke="#EBEBEB" stroke-width="0.7"/>
<line x1="363.5" y1="184.8" x2="397.3" y2="184.8" stroke="#EBEBEB" stroke-width="0.7"/>
<line x1="363.5" y1="267.3" x2="397.3" y2="267.3" stroke="#EBEBEB" stroke-width="0.7"/>
<line x1="368.4" y1="40.5" x2="368.4" y2="341.3" stroke="#EBEBEB" stroke-width="0.7"/>
<line x1="376.5" y1="40.5" x2="376.5" y2="341.3" stroke="#EBEBEB" stroke-width="0.7"/>
<line x1="384.6" y1="40.5" x2="384.6" y2="341.3" stroke="#EBEBEB" stroke-width="0.7"/>
<line x1="392.7" y1="40.5" x2="392.7" y2="341.3" stroke="#EBEBEB" stroke-width="0.7"/>
<rect x="363.2" y="30.1" width="34.4" height="10.4" fill="#000"/>
<text transform="translate(380.4 38.0) scale(1 1.15)" font-size="5.55" fill="#fff" stroke="#fff" stroke-width="0.1" text-anchor="middle">Simpson</text>
<rect x="363.5" y="40.5" width="33.8" height="300.8" fill="none" stroke="#B8B8B8" stroke-width="1"/>
<line x1="361.5" y1="102.9" x2="363.5" y2="102.9" stroke="#555" stroke-width="0.6"/>
<text x="360.9" y="104.7" font-size="5" fill="#4D4D4D" text-anchor="end">0.99</text>
<line x1="361.5" y1="184.8" x2="363.5" y2="184.8" stroke="#555" stroke-width="0.6"/>
<text x="360.9" y="186.6" font-size="5" fill="#4D4D4D" text-anchor="end">0.96</text>
<line x1="361.5" y1="267.3" x2="363.5" y2="267.3" stroke="#555" stroke-width="0.6"/>
<text x="360.9" y="269.1" font-size="5" fill="#4D4D4D" text-anchor="end">0.93</text>
<line x1="368.4" y1="341.3" x2="368.4" y2="343.3" stroke="#555" stroke-width="0.6"/>
<line x1="376.5" y1="341.3" x2="376.5" y2="343.3" stroke="#555" stroke-width="0.6"/>
<line x1="384.6" y1="341.3" x2="384.6" y2="343.3" stroke="#555" stroke-width="0.6"/>
<line x1="392.7" y1="341.3" x2="392.7" y2="343.3" stroke="#555" stroke-width="0.6"/>
<path d="M376.5 60.6V54.3H392.7V60.6" fill="none" stroke="#333" stroke-width="0.75"/>
<text transform="translate(384.6 53) scale(1 1.22)" font-size="5.9" fill="#111" stroke="#111" stroke-width="0.12" text-anchor="middle">ns</text>
<path d="M384.6 86V79.8H392.7V86" fill="none" stroke="#333" stroke-width="0.75"/>
<text transform="translate(388.65 78.3) scale(1 1.22)" font-size="5.9" fill="#111" stroke="#111" stroke-width="0.12" text-anchor="middle">ns</text>
<path d="M368.4 111.3V105.2H376.5V111.3" fill="none" stroke="#333" stroke-width="0.75"/>
<text transform="translate(372.45 103.8) scale(1 1.22)" font-size="5.9" fill="#111" stroke="#111" stroke-width="0.12" text-anchor="middle">ns</text>
<line x1="368.4" y1="125" x2="368.4" y2="143.2" stroke="#0A9C7D" stroke-width="0.9" stroke-opacity="0.55"/>
<line x1="368.4" y1="195.7" x2="368.4" y2="254.2" stroke="#0A9C7D" stroke-width="0.9" stroke-opacity="0.55"/>
<rect x="365.2" y="143.2" width="6.4" height="52.5" fill="none" stroke="#0A9C7D" stroke-width="0.9" stroke-opacity="0.75"/>
<line x1="365.2" y1="164.2" x2="371.6" y2="164.2" stroke="#0A9C7D" stroke-width="1"/>
<circle cx="368.4" cy="125" r="1.45" fill="#0A9C7D"/>
<circle cx="368.4" cy="133.6" r="1.45" fill="#0A9C7D"/>
<circle cx="368.4" cy="140.7" r="1.45" fill="#0A9C7D"/>
<circle cx="368.4" cy="142.2" r="1.45" fill="#0A9C7D"/>
<circle cx="368.4" cy="143.5" r="1.45" fill="#0A9C7D"/>
<circle cx="368.4" cy="148.5" r="1.45" fill="#0A9C7D"/>
<circle cx="368.4" cy="153" r="1.45" fill="#0A9C7D"/>
<circle cx="368.4" cy="155.2" r="1.45" fill="#0A9C7D"/>
<circle cx="368.4" cy="158.5" r="1.45" fill="#0A9C7D"/>
<circle cx="368.4" cy="164.2" r="1.45" fill="#0A9C7D"/>
<circle cx="368.4" cy="174.9" r="1.45" fill="#0A9C7D"/>
<circle cx="368.4" cy="176.5" r="1.45" fill="#0A9C7D"/>
<circle cx="368.4" cy="178.4" r="1.45" fill="#0A9C7D"/>
<circle cx="368.4" cy="187.6" r="1.45" fill="#0A9C7D"/>
<circle cx="368.4" cy="189" r="1.45" fill="#0A9C7D"/>
<circle cx="368.4" cy="190.5" r="1.45" fill="#0A9C7D"/>
<circle cx="368.4" cy="199" r="1.45" fill="#0A9C7D"/>
<circle cx="368.4" cy="209.7" r="1.45" fill="#0A9C7D"/>
<circle cx="368.4" cy="214.6" r="1.45" fill="#0A9C7D"/>
<circle cx="368.4" cy="225.3" r="1.45" fill="#0A9C7D"/>
<circle cx="368.4" cy="254.2" r="1.45" fill="#0A9C7D"/>
<circle cx="368.4" cy="278.3" r="1.45" fill="#0A9C7D"/>
<circle cx="368.4" cy="304.9" r="1.45" fill="#0A9C7D"/>
<line x1="376.5" y1="121.1" x2="376.5" y2="137.1" stroke="#33468A" stroke-width="0.9" stroke-opacity="0.55"/>
<line x1="376.5" y1="170.6" x2="376.5" y2="200.4" stroke="#33468A" stroke-width="0.9" stroke-opacity="0.55"/>
<rect x="373.3" y="137.1" width="6.4" height="33.5" fill="none" stroke="#33468A" stroke-width="0.9" stroke-opacity="0.75"/>
<line x1="373.3" y1="156.5" x2="379.7" y2="156.5" stroke="#33468A" stroke-width="1"/>
<circle cx="376.5" cy="121.1" r="1.45" fill="#33468A"/>
<circle cx="376.5" cy="123.3" r="1.45" fill="#33468A"/>
<circle cx="376.5" cy="126.8" r="1.45" fill="#33468A"/>
<circle cx="376.5" cy="130.7" r="1.45" fill="#33468A"/>
<circle cx="376.5" cy="132.5" r="1.45" fill="#33468A"/>
<circle cx="376.5" cy="136.4" r="1.45" fill="#33468A"/>
<circle cx="376.5" cy="138" r="1.45" fill="#33468A"/>
<circle cx="376.5" cy="139.6" r="1.45" fill="#33468A"/>
<circle cx="376.5" cy="148.5" r="1.45" fill="#33468A"/>
<circle cx="376.5" cy="154.2" r="1.45" fill="#33468A"/>
<circle cx="376.5" cy="156.3" r="1.45" fill="#33468A"/>
<circle cx="376.5" cy="158" r="1.45" fill="#33468A"/>
<circle cx="376.5" cy="160" r="1.45" fill="#33468A"/>
<circle cx="376.5" cy="161.4" r="1.45" fill="#33468A"/>
<circle cx="376.5" cy="163" r="1.45" fill="#33468A"/>
<circle cx="376.5" cy="165" r="1.45" fill="#33468A"/>
<circle cx="376.5" cy="167" r="1.45" fill="#33468A"/>
<circle cx="376.5" cy="169.9" r="1.45" fill="#33468A"/>
<circle cx="376.5" cy="172" r="1.45" fill="#33468A"/>
<circle cx="376.5" cy="174.5" r="1.45" fill="#33468A"/>
<circle cx="376.5" cy="176.5" r="1.45" fill="#33468A"/>
<circle cx="376.5" cy="178.4" r="1.45" fill="#33468A"/>
<circle cx="376.5" cy="194.7" r="1.45" fill="#33468A"/>
<circle cx="376.5" cy="200.4" r="1.45" fill="#33468A"/>
<circle cx="376.5" cy="240.7" r="1.45" fill="#33468A"/>
<circle cx="376.5" cy="325" r="1.45" fill="#33468A"/>
<line x1="384.6" y1="125" x2="384.6" y2="146.4" stroke="#BA1E2E" stroke-width="0.9" stroke-opacity="0.55"/>
<line x1="384.6" y1="208.2" x2="384.6" y2="250.1" stroke="#BA1E2E" stroke-width="0.9" stroke-opacity="0.55"/>
<rect x="381.4" y="146.4" width="6.4" height="61.8" fill="none" stroke="#BA1E2E" stroke-width="0.9" stroke-opacity="0.75"/>
<line x1="381.4" y1="168.9" x2="387.8" y2="168.9" stroke="#BA1E2E" stroke-width="1"/>
<circle cx="384.6" cy="125" r="1.45" fill="#BA1E2E"/>
<circle cx="384.6" cy="127.2" r="1.45" fill="#BA1E2E"/>
<circle cx="384.6" cy="135.7" r="1.45" fill="#BA1E2E"/>
<circle cx="384.6" cy="137.5" r="1.45" fill="#BA1E2E"/>
<circle cx="384.6" cy="140" r="1.45" fill="#BA1E2E"/>
<circle cx="384.6" cy="143.5" r="1.45" fill="#BA1E2E"/>
<circle cx="384.6" cy="152" r="1.45" fill="#BA1E2E"/>
<circle cx="384.6" cy="154.2" r="1.45" fill="#BA1E2E"/>
<circle cx="384.6" cy="156.3" r="1.45" fill="#BA1E2E"/>
<circle cx="384.6" cy="180.5" r="1.45" fill="#BA1E2E"/>
<circle cx="384.6" cy="182" r="1.45" fill="#BA1E2E"/>
<circle cx="384.6" cy="184.1" r="1.45" fill="#BA1E2E"/>
<circle cx="384.6" cy="191.9" r="1.45" fill="#BA1E2E"/>
<circle cx="384.6" cy="196.2" r="1.45" fill="#BA1E2E"/>
<circle cx="384.6" cy="212.5" r="1.45" fill="#BA1E2E"/>
<circle cx="384.6" cy="215" r="1.45" fill="#BA1E2E"/>
<circle cx="384.6" cy="217" r="1.45" fill="#BA1E2E"/>
<circle cx="384.6" cy="219.6" r="1.45" fill="#BA1E2E"/>
<circle cx="384.6" cy="231.7" r="1.45" fill="#BA1E2E"/>
<circle cx="384.6" cy="240.9" r="1.45" fill="#BA1E2E"/>
<circle cx="384.6" cy="246" r="1.45" fill="#BA1E2E"/>
<circle cx="384.6" cy="250.1" r="1.45" fill="#BA1E2E"/>
<circle cx="384.6" cy="308.2" r="1.45" fill="#BA1E2E"/>
<line x1="392.7" y1="115.5" x2="392.7" y2="137.1" stroke="#F2C500" stroke-width="0.9" stroke-opacity="0.55"/>
<line x1="392.7" y1="189" x2="392.7" y2="250.7" stroke="#F2C500" stroke-width="0.9" stroke-opacity="0.55"/>
<rect x="389.5" y="137.1" width="6.4" height="51.9" fill="none" stroke="#F2C500" stroke-width="0.9" stroke-opacity="0.75"/>
<line x1="389.5" y1="158.5" x2="395.9" y2="158.5" stroke="#F2C500" stroke-width="1"/>
<circle cx="392.7" cy="115.5" r="1.45" fill="#F2C500"/>
<circle cx="392.7" cy="122.6" r="1.45" fill="#F2C500"/>
<circle cx="392.7" cy="130.7" r="1.45" fill="#F2C500"/>
<circle cx="392.7" cy="137.1" r="1.45" fill="#F2C500"/>
<circle cx="392.7" cy="139.3" r="1.45" fill="#F2C500"/>
<circle cx="392.7" cy="148.5" r="1.45" fill="#F2C500"/>
<circle cx="392.7" cy="152.8" r="1.45" fill="#F2C500"/>
<circle cx="392.7" cy="157" r="1.45" fill="#F2C500"/>
<circle cx="392.7" cy="158.5" r="1.45" fill="#F2C500"/>
<circle cx="392.7" cy="176.3" r="1.45" fill="#F2C500"/>
<circle cx="392.7" cy="179" r="1.45" fill="#F2C500"/>
<circle cx="392.7" cy="182" r="1.45" fill="#F2C500"/>
<circle cx="392.7" cy="185.5" r="1.45" fill="#F2C500"/>
<circle cx="392.7" cy="187.6" r="1.45" fill="#F2C500"/>
<circle cx="392.7" cy="190.5" r="1.45" fill="#F2C500"/>
<circle cx="392.7" cy="194" r="1.45" fill="#F2C500"/>
<circle cx="392.7" cy="222.4" r="1.45" fill="#F2C500"/>
<circle cx="392.7" cy="230.5" r="1.45" fill="#F2C500"/>
<circle cx="392.7" cy="249.4" r="1.45" fill="#F2C500"/>
<circle cx="392.7" cy="250.7" r="1.45" fill="#F2C500"/>
<circle cx="392.7" cy="279.8" r="1.45" fill="#F2C500"/>
<circle cx="392.7" cy="328" r="1.45" fill="#F2C500"/>
<line x1="408.9" y1="108.6" x2="442.8" y2="108.6" stroke="#F3F3F3" stroke-width="0.5"/>
<line x1="408.9" y1="182.5" x2="442.8" y2="182.5" stroke="#F3F3F3" stroke-width="0.5"/>
<line x1="408.9" y1="256.75" x2="442.8" y2="256.75" stroke="#F3F3F3" stroke-width="0.5"/>
<line x1="408.9" y1="330.9" x2="442.8" y2="330.9" stroke="#F3F3F3" stroke-width="0.5"/>
<line x1="408.9" y1="71.7" x2="442.8" y2="71.7" stroke="#EBEBEB" stroke-width="0.7"/>
<line x1="408.9" y1="145.5" x2="442.8" y2="145.5" stroke="#EBEBEB" stroke-width="0.7"/>
<line x1="408.9" y1="219.5" x2="442.8" y2="219.5" stroke="#EBEBEB" stroke-width="0.7"/>
<line x1="408.9" y1="294" x2="442.8" y2="294" stroke="#EBEBEB" stroke-width="0.7"/>
<line x1="413.8" y1="40.5" x2="413.8" y2="341.3" stroke="#EBEBEB" stroke-width="0.7"/>
<line x1="421.9" y1="40.5" x2="421.9" y2="341.3" stroke="#EBEBEB" stroke-width="0.7"/>
<line x1="429.9" y1="40.5" x2="429.9" y2="341.3" stroke="#EBEBEB" stroke-width="0.7"/>
<line x1="438.3" y1="40.5" x2="438.3" y2="341.3" stroke="#EBEBEB" stroke-width="0.7"/>
<rect x="408.6" y="30.1" width="34.5" height="10.4" fill="#000"/>
<text transform="translate(425.85 38.0) scale(1 1.15)" font-size="5.55" fill="#fff" stroke="#fff" stroke-width="0.1" text-anchor="middle">InvSimpson</text>
<rect x="408.9" y="40.5" width="33.9" height="300.8" fill="none" stroke="#B8B8B8" stroke-width="1"/>
<line x1="406.9" y1="71.7" x2="408.9" y2="71.7" stroke="#555" stroke-width="0.6"/>
<text x="406.3" y="73.5" font-size="5" fill="#4D4D4D" text-anchor="end">80</text>
<line x1="406.9" y1="145.5" x2="408.9" y2="145.5" stroke="#555" stroke-width="0.6"/>
<text x="406.3" y="147.3" font-size="5" fill="#4D4D4D" text-anchor="end">60</text>
<line x1="406.9" y1="219.5" x2="408.9" y2="219.5" stroke="#555" stroke-width="0.6"/>
<text x="406.3" y="221.3" font-size="5" fill="#4D4D4D" text-anchor="end">40</text>
<line x1="406.9" y1="294" x2="408.9" y2="294" stroke="#555" stroke-width="0.6"/>
<text x="406.3" y="295.8" font-size="5" fill="#4D4D4D" text-anchor="end">20</text>
<line x1="413.8" y1="341.3" x2="413.8" y2="343.3" stroke="#555" stroke-width="0.6"/>
<line x1="421.9" y1="341.3" x2="421.9" y2="343.3" stroke="#555" stroke-width="0.6"/>
<line x1="429.9" y1="341.3" x2="429.9" y2="343.3" stroke="#555" stroke-width="0.6"/>
<line x1="438.3" y1="341.3" x2="438.3" y2="343.3" stroke="#555" stroke-width="0.6"/>
<path d="M421.9 60.6V54.3H438.3V60.6" fill="none" stroke="#333" stroke-width="0.75"/>
<text transform="translate(430.1 53) scale(1 1.22)" font-size="5.9" fill="#111" stroke="#111" stroke-width="0.12" text-anchor="middle">ns</text>
<path d="M429.9 86V79.8H438.3V86" fill="none" stroke="#333" stroke-width="0.75"/>
<text transform="translate(434.1 78.3) scale(1 1.22)" font-size="5.9" fill="#111" stroke="#111" stroke-width="0.12" text-anchor="middle">ns</text>
<path d="M413.8 111.3V105.2H421.9V111.3" fill="none" stroke="#333" stroke-width="0.75"/>
<text transform="translate(417.85 103.8) scale(1 1.22)" font-size="5.9" fill="#111" stroke="#111" stroke-width="0.12" text-anchor="middle">ns</text>
<line x1="413.8" y1="163.4" x2="413.8" y2="217.5" stroke="#0A9C7D" stroke-width="0.9" stroke-opacity="0.55"/>
<line x1="413.8" y1="283.3" x2="413.8" y2="323.9" stroke="#0A9C7D" stroke-width="0.9" stroke-opacity="0.55"/>
<rect x="410.6" y="217.5" width="6.4" height="65.8" fill="none" stroke="#0A9C7D" stroke-width="0.9" stroke-opacity="0.75"/>
<line x1="410.6" y1="253.2" x2="417" y2="253.2" stroke="#0A9C7D" stroke-width="1"/>
<circle cx="413.8" cy="163.4" r="1.45" fill="#0A9C7D"/>
<circle cx="413.8" cy="164.4" r="1.45" fill="#0A9C7D"/>
<circle cx="413.8" cy="192" r="1.45" fill="#0A9C7D"/>
<circle cx="413.8" cy="193.3" r="1.45" fill="#0A9C7D"/>
<circle cx="413.8" cy="194.5" r="1.45" fill="#0A9C7D"/>
<circle cx="413.8" cy="211.6" r="1.45" fill="#0A9C7D"/>
<circle cx="413.8" cy="213.3" r="1.45" fill="#0A9C7D"/>
<circle cx="413.8" cy="215.9" r="1.45" fill="#0A9C7D"/>
<circle cx="413.8" cy="217.8" r="1.45" fill="#0A9C7D"/>
<circle cx="413.8" cy="218.7" r="1.45" fill="#0A9C7D"/>
<circle cx="413.8" cy="228.8" r="1.45" fill="#0A9C7D"/>
<circle cx="413.8" cy="230.7" r="1.45" fill="#0A9C7D"/>
<circle cx="413.8" cy="240.8" r="1.45" fill="#0A9C7D"/>
<circle cx="413.8" cy="242" r="1.45" fill="#0A9C7D"/>
<circle cx="413.8" cy="243.6" r="1.45" fill="#0A9C7D"/>
<circle cx="413.8" cy="253.2" r="1.45" fill="#0A9C7D"/>
<circle cx="413.8" cy="264.8" r="1.45" fill="#0A9C7D"/>
<circle cx="413.8" cy="267" r="1.45" fill="#0A9C7D"/>
<circle cx="413.8" cy="270.4" r="1.45" fill="#0A9C7D"/>
<circle cx="413.8" cy="277.4" r="1.45" fill="#0A9C7D"/>
<circle cx="413.8" cy="279.6" r="1.45" fill="#0A9C7D"/>
<circle cx="413.8" cy="282.9" r="1.45" fill="#0A9C7D"/>
<circle cx="413.8" cy="291.6" r="1.45" fill="#0A9C7D"/>
<circle cx="413.8" cy="294" r="1.45" fill="#0A9C7D"/>
<circle cx="413.8" cy="296.2" r="1.45" fill="#0A9C7D"/>
<circle cx="413.8" cy="299.9" r="1.45" fill="#0A9C7D"/>
<circle cx="413.8" cy="311" r="1.45" fill="#0A9C7D"/>
<circle cx="413.8" cy="318" r="1.45" fill="#0A9C7D"/>
<circle cx="413.8" cy="323.9" r="1.45" fill="#0A9C7D"/>
<line x1="421.9" y1="147.4" x2="421.9" y2="203.4" stroke="#33468A" stroke-width="0.9" stroke-opacity="0.55"/>
<line x1="421.9" y1="261.1" x2="421.9" y2="327.2" stroke="#33468A" stroke-width="0.9" stroke-opacity="0.55"/>
<rect x="418.7" y="203.4" width="6.4" height="57.7" fill="none" stroke="#33468A" stroke-width="0.9" stroke-opacity="0.75"/>
<line x1="418.7" y1="242.7" x2="425.1" y2="242.7" stroke="#33468A" stroke-width="1"/>
<circle cx="421.9" cy="147.4" r="1.45" fill="#33468A"/>
<circle cx="421.9" cy="157.1" r="1.45" fill="#33468A"/>
<circle cx="421.9" cy="169.8" r="1.45" fill="#33468A"/>
<circle cx="421.9" cy="172.9" r="1.45" fill="#33468A"/>
<circle cx="421.9" cy="184.7" r="1.45" fill="#33468A"/>
<circle cx="421.9" cy="189.8" r="1.45" fill="#33468A"/>
<circle cx="421.9" cy="201.4" r="1.45" fill="#33468A"/>
<circle cx="421.9" cy="209.9" r="1.45" fill="#33468A"/>
<circle cx="421.9" cy="215" r="1.45" fill="#33468A"/>
<circle cx="421.9" cy="228.8" r="1.45" fill="#33468A"/>
<circle cx="421.9" cy="239" r="1.45" fill="#33468A"/>
<circle cx="421.9" cy="241" r="1.45" fill="#33468A"/>
<circle cx="421.9" cy="242.7" r="1.45" fill="#33468A"/>
<circle cx="421.9" cy="245.4" r="1.45" fill="#33468A"/>
<circle cx="421.9" cy="248" r="1.45" fill="#33468A"/>
<circle cx="421.9" cy="251" r="1.45" fill="#33468A"/>
<circle cx="421.9" cy="254.7" r="1.45" fill="#33468A"/>
<circle cx="421.9" cy="263.9" r="1.45" fill="#33468A"/>
<circle cx="421.9" cy="266" r="1.45" fill="#33468A"/>
<circle cx="421.9" cy="268.5" r="1.45" fill="#33468A"/>
<circle cx="421.9" cy="282.9" r="1.45" fill="#33468A"/>
<circle cx="421.9" cy="284.5" r="1.45" fill="#33468A"/>
<circle cx="421.9" cy="286.6" r="1.45" fill="#33468A"/>
<circle cx="421.9" cy="306.3" r="1.45" fill="#33468A"/>
<circle cx="421.9" cy="327.2" r="1.45" fill="#33468A"/>
<line x1="429.9" y1="162.7" x2="429.9" y2="224.6" stroke="#BA1E2E" stroke-width="0.9" stroke-opacity="0.55"/>
<line x1="429.9" y1="291" x2="429.9" y2="324.2" stroke="#BA1E2E" stroke-width="0.9" stroke-opacity="0.55"/>
<rect x="426.7" y="224.6" width="6.4" height="66.4" fill="none" stroke="#BA1E2E" stroke-width="0.9" stroke-opacity="0.75"/>
<line x1="426.7" y1="259.3" x2="433.1" y2="259.3" stroke="#BA1E2E" stroke-width="1"/>
<circle cx="429.9" cy="162.7" r="1.45" fill="#BA1E2E"/>
<circle cx="429.9" cy="169.5" r="1.45" fill="#BA1E2E"/>
<circle cx="429.9" cy="173.8" r="1.45" fill="#BA1E2E"/>
<circle cx="429.9" cy="199.3" r="1.45" fill="#BA1E2E"/>
<circle cx="429.9" cy="205.6" r="1.45" fill="#BA1E2E"/>
<circle cx="429.9" cy="210.7" r="1.45" fill="#BA1E2E"/>
<circle cx="429.9" cy="217.5" r="1.45" fill="#BA1E2E"/>
<circle cx="429.9" cy="218.7" r="1.45" fill="#BA1E2E"/>
<circle cx="429.9" cy="220.5" r="1.45" fill="#BA1E2E"/>
<circle cx="429.9" cy="236.2" r="1.45" fill="#BA1E2E"/>
<circle cx="429.9" cy="239.9" r="1.45" fill="#BA1E2E"/>
<circle cx="429.9" cy="241.5" r="1.45" fill="#BA1E2E"/>
<circle cx="429.9" cy="242.7" r="1.45" fill="#BA1E2E"/>
<circle cx="429.9" cy="249.1" r="1.45" fill="#BA1E2E"/>
<circle cx="429.9" cy="252" r="1.45" fill="#BA1E2E"/>
<circle cx="429.9" cy="254.7" r="1.45" fill="#BA1E2E"/>
<circle cx="429.9" cy="259.3" r="1.45" fill="#BA1E2E"/>
<circle cx="429.9" cy="272.2" r="1.45" fill="#BA1E2E"/>
<circle cx="429.9" cy="275" r="1.45" fill="#BA1E2E"/>
<circle cx="429.9" cy="280.5" r="1.45" fill="#BA1E2E"/>
<circle cx="429.9" cy="282.5" r="1.45" fill="#BA1E2E"/>
<circle cx="429.9" cy="284.2" r="1.45" fill="#BA1E2E"/>
<circle cx="429.9" cy="294.3" r="1.45" fill="#BA1E2E"/>
<circle cx="429.9" cy="297" r="1.45" fill="#BA1E2E"/>
<circle cx="429.9" cy="299.5" r="1.45" fill="#BA1E2E"/>
<circle cx="429.9" cy="301.7" r="1.45" fill="#BA1E2E"/>
<circle cx="429.9" cy="304.5" r="1.45" fill="#BA1E2E"/>
<circle cx="429.9" cy="308.2" r="1.45" fill="#BA1E2E"/>
<circle cx="429.9" cy="310" r="1.45" fill="#BA1E2E"/>
<circle cx="429.9" cy="324.2" r="1.45" fill="#BA1E2E"/>
<line x1="438.3" y1="115.7" x2="438.3" y2="203.1" stroke="#F2C500" stroke-width="0.9" stroke-opacity="0.55"/>
<line x1="438.3" y1="278.7" x2="438.3" y2="327.5" stroke="#F2C500" stroke-width="0.9" stroke-opacity="0.55"/>
<rect x="435.1" y="203.1" width="6.4" height="75.6" fill="none" stroke="#F2C500" stroke-width="0.9" stroke-opacity="0.75"/>
<line x1="435.1" y1="246.4" x2="441.5" y2="246.4" stroke="#F2C500" stroke-width="1"/>
<circle cx="438.3" cy="115.7" r="1.45" fill="#F2C500"/>
<circle cx="438.3" cy="152.5" r="1.45" fill="#F2C500"/>
<circle cx="438.3" cy="183.5" r="1.45" fill="#F2C500"/>
<circle cx="438.3" cy="185" r="1.45" fill="#F2C500"/>
<circle cx="438.3" cy="186.9" r="1.45" fill="#F2C500"/>
<circle cx="438.3" cy="206.5" r="1.45" fill="#F2C500"/>
<circle cx="438.3" cy="211.1" r="1.45" fill="#F2C500"/>
<circle cx="438.3" cy="228.8" r="1.45" fill="#F2C500"/>
<circle cx="438.3" cy="230.1" r="1.45" fill="#F2C500"/>
<circle cx="438.3" cy="237.1" r="1.45" fill="#F2C500"/>
<circle cx="438.3" cy="245.4" r="1.45" fill="#F2C500"/>
<circle cx="438.3" cy="246.4" r="1.45" fill="#F2C500"/>
<circle cx="438.3" cy="267.6" r="1.45" fill="#F2C500"/>
<circle cx="438.3" cy="270.4" r="1.45" fill="#F2C500"/>
<circle cx="438.3" cy="274" r="1.45" fill="#F2C500"/>
<circle cx="438.3" cy="276" r="1.45" fill="#F2C500"/>
<circle cx="438.3" cy="277.7" r="1.45" fill="#F2C500"/>
<circle cx="438.3" cy="299" r="1.45" fill="#F2C500"/>
<circle cx="438.3" cy="301.7" r="1.45" fill="#F2C500"/>
<circle cx="438.3" cy="310" r="1.45" fill="#F2C500"/>
<circle cx="438.3" cy="318.3" r="1.45" fill="#F2C500"/>
<circle cx="438.3" cy="327.5" r="1.45" fill="#F2C500"/>
<line x1="454.5" y1="68.3" x2="488.5" y2="68.3" stroke="#F3F3F3" stroke-width="0.5"/>
<line x1="454.5" y1="119.5" x2="488.5" y2="119.5" stroke="#F3F3F3" stroke-width="0.5"/>
<line x1="454.5" y1="170.7" x2="488.5" y2="170.7" stroke="#F3F3F3" stroke-width="0.5"/>
<line x1="454.5" y1="221.8" x2="488.5" y2="221.8" stroke="#F3F3F3" stroke-width="0.5"/>
<line x1="454.5" y1="273.1" x2="488.5" y2="273.1" stroke="#F3F3F3" stroke-width="0.5"/>
<line x1="454.5" y1="324.5" x2="488.5" y2="324.5" stroke="#F3F3F3" stroke-width="0.5"/>
<line x1="454.5" y1="42.7" x2="488.5" y2="42.7" stroke="#EBEBEB" stroke-width="0.7"/>
<line x1="454.5" y1="93.9" x2="488.5" y2="93.9" stroke="#EBEBEB" stroke-width="0.7"/>
<line x1="454.5" y1="145.1" x2="488.5" y2="145.1" stroke="#EBEBEB" stroke-width="0.7"/>
<line x1="454.5" y1="196.3" x2="488.5" y2="196.3" stroke="#EBEBEB" stroke-width="0.7"/>
<line x1="454.5" y1="247.3" x2="488.5" y2="247.3" stroke="#EBEBEB" stroke-width="0.7"/>
<line x1="454.5" y1="298.9" x2="488.5" y2="298.9" stroke="#EBEBEB" stroke-width="0.7"/>
<line x1="459.3" y1="40.5" x2="459.3" y2="341.3" stroke="#EBEBEB" stroke-width="0.7"/>
<line x1="467.4" y1="40.5" x2="467.4" y2="341.3" stroke="#EBEBEB" stroke-width="0.7"/>
<line x1="475.5" y1="40.5" x2="475.5" y2="341.3" stroke="#EBEBEB" stroke-width="0.7"/>
<line x1="483.5" y1="40.5" x2="483.5" y2="341.3" stroke="#EBEBEB" stroke-width="0.7"/>
<rect x="454.2" y="30.1" width="34.6" height="10.4" fill="#000"/>
<text transform="translate(471.5 38.0) scale(1 1.15)" font-size="5.55" fill="#fff" stroke="#fff" stroke-width="0.1" text-anchor="middle">Fisher</text>
<rect x="454.5" y="40.5" width="34" height="300.8" fill="none" stroke="#B8B8B8" stroke-width="1"/>
<line x1="452.5" y1="42.7" x2="454.5" y2="42.7" stroke="#555" stroke-width="0.6"/>
<text x="451.9" y="44.5" font-size="5" fill="#4D4D4D" text-anchor="end">70</text>
<line x1="452.5" y1="93.9" x2="454.5" y2="93.9" stroke="#555" stroke-width="0.6"/>
<text x="451.9" y="95.7" font-size="5" fill="#4D4D4D" text-anchor="end">60</text>
<line x1="452.5" y1="145.1" x2="454.5" y2="145.1" stroke="#555" stroke-width="0.6"/>
<text x="451.9" y="146.9" font-size="5" fill="#4D4D4D" text-anchor="end">50</text>
<line x1="452.5" y1="196.3" x2="454.5" y2="196.3" stroke="#555" stroke-width="0.6"/>
<text x="451.9" y="198.1" font-size="5" fill="#4D4D4D" text-anchor="end">40</text>
<line x1="452.5" y1="247.3" x2="454.5" y2="247.3" stroke="#555" stroke-width="0.6"/>
<text x="451.9" y="249.1" font-size="5" fill="#4D4D4D" text-anchor="end">30</text>
<line x1="452.5" y1="298.9" x2="454.5" y2="298.9" stroke="#555" stroke-width="0.6"/>
<text x="451.9" y="300.7" font-size="5" fill="#4D4D4D" text-anchor="end">20</text>
<line x1="459.3" y1="341.3" x2="459.3" y2="343.3" stroke="#555" stroke-width="0.6"/>
<line x1="467.4" y1="341.3" x2="467.4" y2="343.3" stroke="#555" stroke-width="0.6"/>
<line x1="475.5" y1="341.3" x2="475.5" y2="343.3" stroke="#555" stroke-width="0.6"/>
<line x1="483.5" y1="341.3" x2="483.5" y2="343.3" stroke="#555" stroke-width="0.6"/>
<path d="M467.4 60.6V54.3H483.5V60.6" fill="none" stroke="#333" stroke-width="0.75"/>
<text transform="translate(475.45 53) scale(1 1.22)" font-size="5.9" fill="#111" stroke="#111" stroke-width="0.12" text-anchor="middle">ns</text>
<path d="M475.5 86V79.8H483.5V86" fill="none" stroke="#333" stroke-width="0.75"/>
<text transform="translate(479.5 78.3) scale(1 1.22)" font-size="5.9" fill="#111" stroke="#111" stroke-width="0.12" text-anchor="middle">ns</text>
<path d="M459.3 111.3V105.2H467.4V111.3" fill="none" stroke="#333" stroke-width="0.75"/>
<text transform="translate(463.35 103.8) scale(1 1.22)" font-size="5.9" fill="#111" stroke="#111" stroke-width="0.12" text-anchor="middle">ns</text>
<line x1="459.3" y1="146" x2="459.3" y2="195.4" stroke="#0A9C7D" stroke-width="0.9" stroke-opacity="0.55"/>
<line x1="459.3" y1="282.9" x2="459.3" y2="315.6" stroke="#0A9C7D" stroke-width="0.9" stroke-opacity="0.55"/>
<rect x="456.1" y="195.4" width="6.4" height="87.5" fill="none" stroke="#0A9C7D" stroke-width="0.9" stroke-opacity="0.75"/>
<line x1="456.1" y1="236.2" x2="462.5" y2="236.2" stroke="#0A9C7D" stroke-width="1"/>
<circle cx="459.3" cy="146" r="1.45" fill="#0A9C7D"/>
<circle cx="459.3" cy="157.9" r="1.45" fill="#0A9C7D"/>
<circle cx="459.3" cy="162.2" r="1.45" fill="#0A9C7D"/>
<circle cx="459.3" cy="173.6" r="1.45" fill="#0A9C7D"/>
<circle cx="459.3" cy="178.7" r="1.45" fill="#0A9C7D"/>
<circle cx="459.3" cy="182.1" r="1.45" fill="#0A9C7D"/>
<circle cx="459.3" cy="184.5" r="1.45" fill="#0A9C7D"/>
<circle cx="459.3" cy="186.9" r="1.45" fill="#0A9C7D"/>
<circle cx="459.3" cy="189.4" r="1.45" fill="#0A9C7D"/>
<circle cx="459.3" cy="210.7" r="1.45" fill="#0A9C7D"/>
<circle cx="459.3" cy="213" r="1.45" fill="#0A9C7D"/>
<circle cx="459.3" cy="215" r="1.45" fill="#0A9C7D"/>
<circle cx="459.3" cy="217.5" r="1.45" fill="#0A9C7D"/>
<circle cx="459.3" cy="220" r="1.45" fill="#0A9C7D"/>
<circle cx="459.3" cy="222.4" r="1.45" fill="#0A9C7D"/>
<circle cx="459.3" cy="233.5" r="1.45" fill="#0A9C7D"/>
<circle cx="459.3" cy="236" r="1.45" fill="#0A9C7D"/>
<circle cx="459.3" cy="238.1" r="1.45" fill="#0A9C7D"/>
<circle cx="459.3" cy="243.6" r="1.45" fill="#0A9C7D"/>
<circle cx="459.3" cy="259.3" r="1.45" fill="#0A9C7D"/>
<circle cx="459.3" cy="261.1" r="1.45" fill="#0A9C7D"/>
<circle cx="459.3" cy="266.7" r="1.45" fill="#0A9C7D"/>
<circle cx="459.3" cy="279.6" r="1.45" fill="#0A9C7D"/>
<circle cx="459.3" cy="291.6" r="1.45" fill="#0A9C7D"/>
<circle cx="459.3" cy="294.3" r="1.45" fill="#0A9C7D"/>
<circle cx="459.3" cy="296.2" r="1.45" fill="#0A9C7D"/>
<circle cx="459.3" cy="298.5" r="1.45" fill="#0A9C7D"/>
<circle cx="459.3" cy="300.8" r="1.45" fill="#0A9C7D"/>
<circle cx="459.3" cy="305.4" r="1.45" fill="#0A9C7D"/>
<circle cx="459.3" cy="315.6" r="1.45" fill="#0A9C7D"/>
<line x1="467.4" y1="130.3" x2="467.4" y2="203.1" stroke="#33468A" stroke-width="0.9" stroke-opacity="0.55"/>
<line x1="467.4" y1="251.9" x2="467.4" y2="298.4" stroke="#33468A" stroke-width="0.9" stroke-opacity="0.55"/>
<rect x="464.2" y="203.1" width="6.4" height="48.8" fill="none" stroke="#33468A" stroke-width="0.9" stroke-opacity="0.75"/>
<line x1="464.2" y1="236.2" x2="470.6" y2="236.2" stroke="#33468A" stroke-width="1"/>
<circle cx="467.4" cy="130.3" r="1.45" fill="#33468A"/>
<circle cx="467.4" cy="145.7" r="1.45" fill="#33468A"/>
<circle cx="467.4" cy="155.4" r="1.45" fill="#33468A"/>
<circle cx="467.4" cy="157" r="1.45" fill="#33468A"/>
<circle cx="467.4" cy="158.8" r="1.45" fill="#33468A"/>
<circle cx="467.4" cy="182.3" r="1.45" fill="#33468A"/>
<circle cx="467.4" cy="183.5" r="1.45" fill="#33468A"/>
<circle cx="467.4" cy="191.1" r="1.45" fill="#33468A"/>
<circle cx="467.4" cy="208.2" r="1.45" fill="#33468A"/>
<circle cx="467.4" cy="212" r="1.45" fill="#33468A"/>
<circle cx="467.4" cy="215" r="1.45" fill="#33468A"/>
<circle cx="467.4" cy="215.8" r="1.45" fill="#33468A"/>
<circle cx="467.4" cy="230.7" r="1.45" fill="#33468A"/>
<circle cx="467.4" cy="236.2" r="1.45" fill="#33468A"/>
<circle cx="467.4" cy="239" r="1.45" fill="#33468A"/>
<circle cx="467.4" cy="243.6" r="1.45" fill="#33468A"/>
<circle cx="467.4" cy="246" r="1.45" fill="#33468A"/>
<circle cx="467.4" cy="249.1" r="1.45" fill="#33468A"/>
<circle cx="467.4" cy="252.8" r="1.45" fill="#33468A"/>
<circle cx="467.4" cy="274" r="1.45" fill="#33468A"/>
<circle cx="467.4" cy="276.8" r="1.45" fill="#33468A"/>
<circle cx="467.4" cy="282.3" r="1.45" fill="#33468A"/>
<circle cx="467.4" cy="292.1" r="1.45" fill="#33468A"/>
<circle cx="467.4" cy="298.4" r="1.45" fill="#33468A"/>
<line x1="475.5" y1="140.9" x2="475.5" y2="203.1" stroke="#BA1E2E" stroke-width="0.9" stroke-opacity="0.55"/>
<line x1="475.5" y1="283.6" x2="475.5" y2="327.5" stroke="#BA1E2E" stroke-width="0.9" stroke-opacity="0.55"/>
<rect x="472.3" y="203.1" width="6.4" height="80.5" fill="none" stroke="#BA1E2E" stroke-width="0.9" stroke-opacity="0.75"/>
<line x1="472.3" y1="246.4" x2="478.7" y2="246.4" stroke="#BA1E2E" stroke-width="1"/>
<circle cx="475.5" cy="140.9" r="1.45" fill="#BA1E2E"/>
<circle cx="475.5" cy="142.2" r="1.45" fill="#BA1E2E"/>
<circle cx="475.5" cy="153.2" r="1.45" fill="#BA1E2E"/>
<circle cx="475.5" cy="169.8" r="1.45" fill="#BA1E2E"/>
<circle cx="475.5" cy="193.7" r="1.45" fill="#BA1E2E"/>
<circle cx="475.5" cy="196" r="1.45" fill="#BA1E2E"/>
<circle cx="475.5" cy="198" r="1.45" fill="#BA1E2E"/>
<circle cx="475.5" cy="205.6" r="1.45" fill="#BA1E2E"/>
<circle cx="475.5" cy="209" r="1.45" fill="#BA1E2E"/>
<circle cx="475.5" cy="213.3" r="1.45" fill="#BA1E2E"/>
<circle cx="475.5" cy="228.3" r="1.45" fill="#BA1E2E"/>
<circle cx="475.5" cy="239.9" r="1.45" fill="#BA1E2E"/>
<circle cx="475.5" cy="251.9" r="1.45" fill="#BA1E2E"/>
<circle cx="475.5" cy="253.7" r="1.45" fill="#BA1E2E"/>
<circle cx="475.5" cy="268.5" r="1.45" fill="#BA1E2E"/>
<circle cx="475.5" cy="270.4" r="1.45" fill="#BA1E2E"/>
<circle cx="475.5" cy="275.9" r="1.45" fill="#BA1E2E"/>
<circle cx="475.5" cy="278" r="1.45" fill="#BA1E2E"/>
<circle cx="475.5" cy="280.5" r="1.45" fill="#BA1E2E"/>
<circle cx="475.5" cy="287.9" r="1.45" fill="#BA1E2E"/>
<circle cx="475.5" cy="290" r="1.45" fill="#BA1E2E"/>
<circle cx="475.5" cy="292" r="1.45" fill="#BA1E2E"/>
<circle cx="475.5" cy="294" r="1.45" fill="#BA1E2E"/>
<circle cx="475.5" cy="296.5" r="1.45" fill="#BA1E2E"/>
<circle cx="475.5" cy="298.9" r="1.45" fill="#BA1E2E"/>
<circle cx="475.5" cy="327.5" r="1.45" fill="#BA1E2E"/>
<line x1="483.5" y1="115.7" x2="483.5" y2="198.8" stroke="#F2C500" stroke-width="0.9" stroke-opacity="0.55"/>
<line x1="483.5" y1="264.8" x2="483.5" y2="316.5" stroke="#F2C500" stroke-width="0.9" stroke-opacity="0.55"/>
<rect x="480.3" y="198.8" width="6.4" height="66" fill="none" stroke="#F2C500" stroke-width="0.9" stroke-opacity="0.75"/>
<line x1="480.3" y1="228.8" x2="486.7" y2="228.8" stroke="#F2C500" stroke-width="1"/>
<circle cx="483.5" cy="115.7" r="1.45" fill="#F2C500"/>
<circle cx="483.5" cy="123.9" r="1.45" fill="#F2C500"/>
<circle cx="483.5" cy="146" r="1.45" fill="#F2C500"/>
<circle cx="483.5" cy="179.2" r="1.45" fill="#F2C500"/>
<circle cx="483.5" cy="181.5" r="1.45" fill="#F2C500"/>
<circle cx="483.5" cy="184" r="1.45" fill="#F2C500"/>
<circle cx="483.5" cy="186" r="1.45" fill="#F2C500"/>
<circle cx="483.5" cy="212.4" r="1.45" fill="#F2C500"/>
<circle cx="483.5" cy="215" r="1.45" fill="#F2C500"/>
<circle cx="483.5" cy="217.5" r="1.45" fill="#F2C500"/>
<circle cx="483.5" cy="218.7" r="1.45" fill="#F2C500"/>
<circle cx="483.5" cy="219.3" r="1.45" fill="#F2C500"/>
<circle cx="483.5" cy="220.5" r="1.45" fill="#F2C500"/>
<circle cx="483.5" cy="228.8" r="1.45" fill="#F2C500"/>
<circle cx="483.5" cy="230.7" r="1.45" fill="#F2C500"/>
<circle cx="483.5" cy="241.8" r="1.45" fill="#F2C500"/>
<circle cx="483.5" cy="243.5" r="1.45" fill="#F2C500"/>
<circle cx="483.5" cy="245.4" r="1.45" fill="#F2C500"/>
<circle cx="483.5" cy="249.1" r="1.45" fill="#F2C500"/>
<circle cx="483.5" cy="257.4" r="1.45" fill="#F2C500"/>
<circle cx="483.5" cy="272.2" r="1.45" fill="#F2C500"/>
<circle cx="483.5" cy="274.5" r="1.45" fill="#F2C500"/>
<circle cx="483.5" cy="276.8" r="1.45" fill="#F2C500"/>
<circle cx="483.5" cy="288.4" r="1.45" fill="#F2C500"/>
<circle cx="483.5" cy="289.7" r="1.45" fill="#F2C500"/>
<circle cx="483.5" cy="312.8" r="1.45" fill="#F2C500"/>
<circle cx="483.5" cy="316.5" r="1.45" fill="#F2C500"/>
<text transform="translate(158.3 193.7) rotate(-90)" font-size="6.6" fill="#111" text-anchor="middle">Alpha Diversity Measure</text>
<text transform="translate(498 172.6) scale(1 1.18)" font-size="6.0" fill="#222" stroke="#222" stroke-width="0.1">Sample</text>
<line x1="502.3" y1="177.1" x2="502.3" y2="185.1" stroke="#0A9C7D" stroke-width="0.7" stroke-opacity="0.6"/>
<rect x="498.5" y="178.6" width="7.6" height="5" fill="#fff" stroke="#0A9C7D" stroke-width="0.7" stroke-opacity="0.7"/>
<line x1="498.5" y1="181.1" x2="506.1" y2="181.1" stroke="#0A9C7D" stroke-width="0.7"/>
<circle cx="502.3" cy="181.1" r="1.45" fill="#0A9C7D"/>
<text x="510" y="182.8" font-size="4.9" fill="#222" stroke="#222" stroke-width="0.08">Control t0</text>
<line x1="502.3" y1="186.7" x2="502.3" y2="194.7" stroke="#33468A" stroke-width="0.7" stroke-opacity="0.6"/>
<rect x="498.5" y="188.2" width="7.6" height="5" fill="#fff" stroke="#33468A" stroke-width="0.7" stroke-opacity="0.7"/>
<line x1="498.5" y1="190.7" x2="506.1" y2="190.7" stroke="#33468A" stroke-width="0.7"/>
<circle cx="502.3" cy="190.7" r="1.45" fill="#33468A"/>
<text x="510" y="192.4" font-size="4.9" fill="#222" stroke="#222" stroke-width="0.08">Control tf</text>
<line x1="502.3" y1="196" x2="502.3" y2="204" stroke="#BA1E2E" stroke-width="0.7" stroke-opacity="0.6"/>
<rect x="498.5" y="197.5" width="7.6" height="5" fill="#fff" stroke="#BA1E2E" stroke-width="0.7" stroke-opacity="0.7"/>
<line x1="498.5" y1="200" x2="506.1" y2="200" stroke="#BA1E2E" stroke-width="0.7"/>
<circle cx="502.3" cy="200" r="1.45" fill="#BA1E2E"/>
<text x="510" y="201.7" font-size="4.9" fill="#222" stroke="#222" stroke-width="0.08">Intervention t0</text>
<line x1="502.3" y1="205.9" x2="502.3" y2="213.9" stroke="#F2C500" stroke-width="0.7" stroke-opacity="0.6"/>
<rect x="498.5" y="207.4" width="7.6" height="5" fill="#fff" stroke="#F2C500" stroke-width="0.7" stroke-opacity="0.7"/>
<line x1="498.5" y1="209.9" x2="506.1" y2="209.9" stroke="#F2C500" stroke-width="0.7"/>
<circle cx="502.3" cy="209.9" r="1.45" fill="#F2C500"/>
<text x="510" y="211.6" font-size="4.9" fill="#222" stroke="#222" stroke-width="0.08">Intervention tf</text>
<line x1="76.85" y1="432.5" x2="76.85" y2="682.4" stroke="#F4F4F4" stroke-width="0.5"/>
<line x1="131.75" y1="432.5" x2="131.75" y2="682.4" stroke="#F4F4F4" stroke-width="0.5"/>
<line x1="186.65" y1="432.5" x2="186.65" y2="682.4" stroke="#F4F4F4" stroke-width="0.5"/>
<line x1="241.55" y1="432.5" x2="241.55" y2="682.4" stroke="#F4F4F4" stroke-width="0.5"/>
<line x1="41.4" y1="483.45" x2="260.4" y2="483.45" stroke="#F4F4F4" stroke-width="0.5"/>
<line x1="41.4" y1="538.35" x2="260.4" y2="538.35" stroke="#F4F4F4" stroke-width="0.5"/>
<line x1="41.4" y1="593.25" x2="260.4" y2="593.25" stroke="#F4F4F4" stroke-width="0.5"/>
<line x1="41.4" y1="648.15" x2="260.4" y2="648.15" stroke="#F4F4F4" stroke-width="0.5"/>
<line x1="49.4" y1="432.5" x2="49.4" y2="682.4" stroke="#EBEBEB" stroke-width="0.8"/>
<line x1="104.3" y1="432.5" x2="104.3" y2="682.4" stroke="#EBEBEB" stroke-width="0.8"/>
<line x1="159.2" y1="432.5" x2="159.2" y2="682.4" stroke="#EBEBEB" stroke-width="0.8"/>
<line x1="214.1" y1="432.5" x2="214.1" y2="682.4" stroke="#EBEBEB" stroke-width="0.8"/>
<line x1="41.4" y1="456" x2="260.4" y2="456" stroke="#EBEBEB" stroke-width="0.8"/>
<line x1="41.4" y1="510.9" x2="260.4" y2="510.9" stroke="#EBEBEB" stroke-width="0.8"/>
<line x1="41.4" y1="565.8" x2="260.4" y2="565.8" stroke="#EBEBEB" stroke-width="0.8"/>
<line x1="41.4" y1="620.7" x2="260.4" y2="620.7" stroke="#EBEBEB" stroke-width="0.8"/>
<line x1="41.4" y1="675.6" x2="260.4" y2="675.6" stroke="#EBEBEB" stroke-width="0.8"/>
<rect x="41.4" y="432.5" width="219" height="249.9" fill="none" stroke="#A3A3A3" stroke-width="1"/>
<line x1="49.4" y1="682.4" x2="49.4" y2="684.9" stroke="#555" stroke-width="0.7"/>
<text x="49.4" y="690.6" font-size="6" fill="#444" stroke="#444" stroke-width="0.12" text-anchor="middle">-0.2</text>
<line x1="104.3" y1="682.4" x2="104.3" y2="684.9" stroke="#555" stroke-width="0.7"/>
<text x="104.3" y="690.6" font-size="6" fill="#444" stroke="#444" stroke-width="0.12" text-anchor="middle">-0.1</text>
<line x1="159.2" y1="682.4" x2="159.2" y2="684.9" stroke="#555" stroke-width="0.7"/>
<text x="159.2" y="690.6" font-size="6" fill="#444" stroke="#444" stroke-width="0.12" text-anchor="middle">0.0</text>
<line x1="214.1" y1="682.4" x2="214.1" y2="684.9" stroke="#555" stroke-width="0.7"/>
<text x="214.1" y="690.6" font-size="6" fill="#444" stroke="#444" stroke-width="0.12" text-anchor="middle">0.1</text>
<line x1="38.9" y1="456" x2="41.4" y2="456" stroke="#555" stroke-width="0.7"/>
<text x="37.9" y="458.16" font-size="6" fill="#444" stroke="#444" stroke-width="0.12" text-anchor="end">0.2</text>
<line x1="38.9" y1="510.9" x2="41.4" y2="510.9" stroke="#555" stroke-width="0.7"/>
<text x="37.9" y="513.06" font-size="6" fill="#444" stroke="#444" stroke-width="0.12" text-anchor="end">0.1</text>
<line x1="38.9" y1="565.8" x2="41.4" y2="565.8" stroke="#555" stroke-width="0.7"/>
<text x="37.9" y="567.96" font-size="6" fill="#444" stroke="#444" stroke-width="0.12" text-anchor="end">0.0</text>
<line x1="38.9" y1="620.7" x2="41.4" y2="620.7" stroke="#555" stroke-width="0.7"/>
<text x="37.9" y="622.86" font-size="6" fill="#444" stroke="#444" stroke-width="0.12" text-anchor="end">-0.1</text>
<line x1="38.9" y1="675.6" x2="41.4" y2="675.6" stroke="#555" stroke-width="0.7"/>
<text x="37.9" y="677.76" font-size="6" fill="#444" stroke="#444" stroke-width="0.12" text-anchor="end">-0.2</text>
<circle cx="178.6" cy="443.7" r="3.7" fill="#0A9C7D"/>
<circle cx="161.2" cy="465.4" r="3.7" fill="#0A9C7D"/>
<circle cx="110.3" cy="510.7" r="3.7" fill="#0A9C7D"/>
<circle cx="166.6" cy="523.2" r="3.7" fill="#0A9C7D"/>
<circle cx="135" cy="546.2" r="3.7" fill="#0A9C7D"/>
<circle cx="135.9" cy="549.4" r="3.7" fill="#0A9C7D"/>
<circle cx="122.6" cy="552.4" r="3.7" fill="#0A9C7D"/>
<circle cx="173.6" cy="544.1" r="3.7" fill="#0A9C7D"/>
<circle cx="161.6" cy="553.9" r="3.7" fill="#0A9C7D"/>
<circle cx="193.4" cy="549.4" r="3.7" fill="#0A9C7D"/>
<circle cx="209.8" cy="553.2" r="3.7" fill="#0A9C7D"/>
<circle cx="209.4" cy="559.6" r="3.7" fill="#0A9C7D"/>
<circle cx="51" cy="553.2" r="3.7" fill="#0A9C7D"/>
<circle cx="73.4" cy="562.5" r="3.7" fill="#0A9C7D"/>
<circle cx="88.4" cy="564.5" r="3.7" fill="#0A9C7D"/>
<circle cx="135.9" cy="561.5" r="3.7" fill="#0A9C7D"/>
<circle cx="135.5" cy="570.9" r="3.7" fill="#0A9C7D"/>
<circle cx="170.9" cy="569.9" r="3.7" fill="#0A9C7D"/>
<circle cx="145.5" cy="582.4" r="3.7" fill="#0A9C7D"/>
<circle cx="188.4" cy="588.4" r="3.7" fill="#0A9C7D"/>
<circle cx="234.2" cy="584.4" r="3.7" fill="#0A9C7D"/>
<circle cx="248.9" cy="573.9" r="3.7" fill="#0A9C7D"/>
<circle cx="246.9" cy="590.2" r="3.7" fill="#0A9C7D"/>
<circle cx="232.2" cy="609.3" r="3.7" fill="#0A9C7D"/>
<circle cx="56.9" cy="604.3" r="3.7" fill="#0A9C7D"/>
<circle cx="106.7" cy="625.2" r="3.7" fill="#0A9C7D"/>
<circle cx="128.2" cy="631.6" r="3.7" fill="#0A9C7D"/>
<circle cx="129.6" cy="647.5" r="3.7" fill="#0A9C7D"/>
<circle cx="185.4" cy="641.9" r="3.7" fill="#0A9C7D"/>
<path d="M150.5 456.25L155.4 464.75L145.6 464.75Z" fill="#33468A"/>
<path d="M117.1 489.85L122 498.35L112.2 498.35Z" fill="#33468A"/>
<path d="M136.9 506.45L141.8 514.95L132 514.95Z" fill="#33468A"/>
<path d="M250.6 504.65L255.5 513.15L245.7 513.15Z" fill="#33468A"/>
<path d="M172.3 512.95L177.2 521.45L167.4 521.45Z" fill="#33468A"/>
<path d="M153.3 518.85L158.2 527.35L148.4 527.35Z" fill="#33468A"/>
<path d="M192.6 518.45L197.5 526.95L187.7 526.95Z" fill="#33468A"/>
<path d="M153.3 527.35L158.2 535.85L148.4 535.85Z" fill="#33468A"/>
<path d="M250.6 534.95L255.5 543.45L245.7 543.45Z" fill="#33468A"/>
<path d="M76.5 543.05L81.4 551.55L71.6 551.55Z" fill="#33468A"/>
<path d="M73.8 550.25L78.7 558.75L68.9 558.75Z" fill="#33468A"/>
<path d="M220.7 550.05L225.6 558.55L215.8 558.55Z" fill="#33468A"/>
<path d="M211.7 565.15L216.6 573.65L206.8 573.65Z" fill="#33468A"/>
<path d="M150.5 561.15L155.4 569.65L145.6 569.65Z" fill="#33468A"/>
<path d="M145.1 568.75L150 577.25L140.2 577.25Z" fill="#33468A"/>
<path d="M238.9 570.45L243.8 578.95L234 578.95Z" fill="#33468A"/>
<path d="M206.7 572.05L211.6 580.55L201.8 580.55Z" fill="#33468A"/>
<path d="M197.8 577.65L202.7 586.15L192.9 586.15Z" fill="#33468A"/>
<path d="M94.7 575.65L99.6 584.15L89.8 584.15Z" fill="#33468A"/>
<path d="M139.5 580.05L144.4 588.55L134.6 588.55Z" fill="#33468A"/>
<path d="M112.2 582.65L117.1 591.15L107.3 591.15Z" fill="#33468A"/>
<path d="M56.3 580.45L61.2 588.95L51.4 588.95Z" fill="#33468A"/>
<path d="M223 585.05L227.9 593.55L218.1 593.55Z" fill="#33468A"/>
<path d="M76.8 590.05L81.7 598.55L71.9 598.55Z" fill="#33468A"/>
<path d="M148.1 593.95L153 602.45L143.2 602.45Z" fill="#33468A"/>
<path d="M186.8 611.25L191.7 619.75L181.9 619.75Z" fill="#33468A"/>
<path d="M194.2 608.75L199.1 617.25L189.3 617.25Z" fill="#33468A"/>
<path d="M208.7 628.75L213.6 637.25L203.8 637.25Z" fill="#33468A"/>
<path d="M160 665.55L164.9 674.05L155.1 674.05Z" fill="#33468A"/>
<ellipse cx="156.5" cy="566.1" rx="58.2" ry="43.8" transform="rotate(0 156.5 566.1)" fill="none" stroke="#0A9C7D" stroke-width="0.9"/>
<ellipse cx="163.9" cy="566.3" rx="60.7" ry="46" transform="rotate(0 163.9 566.3)" fill="none" stroke="#33468A" stroke-width="0.9"/>
<text x="41" y="427.3" font-size="8.75" fill="#1A1A1A" stroke="#1A1A1A" stroke-width="0.08">Weighted unifrac</text>
<text x="151.1" y="699.1" font-size="7.3" fill="#111" stroke="#111" stroke-width="0.12" text-anchor="middle">PC1(12%)</text>
<text transform="translate(24.4 557) rotate(-90)" font-size="7.5" fill="#111" stroke="#111" stroke-width="0.12" text-anchor="middle">PC2 (8.2%)</text>
<text x="272.3" y="547" font-size="7" fill="#1A1A1A">Type</text>
<circle cx="277.4" cy="556.9" r="3.7" fill="#0A9C7D"/>
<path d="M277.4 563.35L282.3 571.85L272.5 571.85Z" fill="#33468A"/>
<text x="286.9" y="559.4" font-size="5.8" fill="#222">Control</text>
<text x="286.9" y="570.8" font-size="5.8" fill="#222">Intervention</text>
<line x1="422" y1="434.1" x2="422" y2="677.5" stroke="#F4F4F4" stroke-width="0.5"/>
<line x1="484.6" y1="434.1" x2="484.6" y2="677.5" stroke="#F4F4F4" stroke-width="0.5"/>
<line x1="547.2" y1="434.1" x2="547.2" y2="677.5" stroke="#F4F4F4" stroke-width="0.5"/>
<line x1="609.8" y1="434.1" x2="609.8" y2="677.5" stroke="#F4F4F4" stroke-width="0.5"/>
<line x1="672.4" y1="434.1" x2="672.4" y2="677.5" stroke="#F4F4F4" stroke-width="0.5"/>
<line x1="376.5" y1="446.15" x2="701.3" y2="446.15" stroke="#F4F4F4" stroke-width="0.5"/>
<line x1="376.5" y1="508.75" x2="701.3" y2="508.75" stroke="#F4F4F4" stroke-width="0.5"/>
<line x1="376.5" y1="571.35" x2="701.3" y2="571.35" stroke="#F4F4F4" stroke-width="0.5"/>
<line x1="376.5" y1="633.95" x2="701.3" y2="633.95" stroke="#F4F4F4" stroke-width="0.5"/>
<line x1="390.7" y1="434.1" x2="390.7" y2="677.5" stroke="#EBEBEB" stroke-width="0.8"/>
<line x1="453.3" y1="434.1" x2="453.3" y2="677.5" stroke="#EBEBEB" stroke-width="0.8"/>
<line x1="515.9" y1="434.1" x2="515.9" y2="677.5" stroke="#EBEBEB" stroke-width="0.8"/>
<line x1="578.5" y1="434.1" x2="578.5" y2="677.5" stroke="#EBEBEB" stroke-width="0.8"/>
<line x1="641.1" y1="434.1" x2="641.1" y2="677.5" stroke="#EBEBEB" stroke-width="0.8"/>
<line x1="376.5" y1="477.45" x2="701.3" y2="477.45" stroke="#EBEBEB" stroke-width="0.8"/>
<line x1="376.5" y1="540.05" x2="701.3" y2="540.05" stroke="#EBEBEB" stroke-width="0.8"/>
<line x1="376.5" y1="602.65" x2="701.3" y2="602.65" stroke="#EBEBEB" stroke-width="0.8"/>
<line x1="376.5" y1="665.25" x2="701.3" y2="665.25" stroke="#EBEBEB" stroke-width="0.8"/>
<rect x="376.5" y="434.1" width="324.8" height="243.4" fill="none" stroke="#A3A3A3" stroke-width="1"/>
<line x1="390.7" y1="677.5" x2="390.7" y2="680" stroke="#555" stroke-width="0.7"/>
<text x="390.7" y="686.6" font-size="6.3" fill="#444" stroke="#444" stroke-width="0.12" text-anchor="middle">-0.2</text>
<line x1="453.3" y1="677.5" x2="453.3" y2="680" stroke="#555" stroke-width="0.7"/>
<text x="453.3" y="686.6" font-size="6.3" fill="#444" stroke="#444" stroke-width="0.12" text-anchor="middle">-0.1</text>
<line x1="515.9" y1="677.5" x2="515.9" y2="680" stroke="#555" stroke-width="0.7"/>
<text x="515.9" y="686.6" font-size="6.3" fill="#444" stroke="#444" stroke-width="0.12" text-anchor="middle">0.0</text>
<line x1="578.5" y1="677.5" x2="578.5" y2="680" stroke="#555" stroke-width="0.7"/>
<text x="578.5" y="686.6" font-size="6.3" fill="#444" stroke="#444" stroke-width="0.12" text-anchor="middle">0.1</text>
<line x1="641.1" y1="677.5" x2="641.1" y2="680" stroke="#555" stroke-width="0.7"/>
<text x="641.1" y="686.6" font-size="6.3" fill="#444" stroke="#444" stroke-width="0.12" text-anchor="middle">0.2</text>
<line x1="374" y1="477.45" x2="376.5" y2="477.45" stroke="#555" stroke-width="0.7"/>
<text x="373" y="479.72" font-size="6.3" fill="#444" stroke="#444" stroke-width="0.12" text-anchor="end">0.1</text>
<line x1="374" y1="540.05" x2="376.5" y2="540.05" stroke="#555" stroke-width="0.7"/>
<text x="373" y="542.32" font-size="6.3" fill="#444" stroke="#444" stroke-width="0.12" text-anchor="end">0.0</text>
<line x1="374" y1="602.65" x2="376.5" y2="602.65" stroke="#555" stroke-width="0.7"/>
<text x="373" y="604.92" font-size="6.3" fill="#444" stroke="#444" stroke-width="0.12" text-anchor="end">-0.1</text>
<line x1="374" y1="665.25" x2="376.5" y2="665.25" stroke="#555" stroke-width="0.7"/>
<text x="373" y="667.52" font-size="6.3" fill="#444" stroke="#444" stroke-width="0.12" text-anchor="end">-0.2</text>
<circle cx="409.6" cy="450.6" r="4.25" fill="#0A9C7D"/>
<circle cx="443" cy="479" r="4.25" fill="#0A9C7D"/>
<circle cx="451.7" cy="486.1" r="4.25" fill="#0A9C7D"/>
<circle cx="437.5" cy="499.8" r="4.25" fill="#0A9C7D"/>
<circle cx="417.2" cy="506.5" r="4.25" fill="#0A9C7D"/>
<circle cx="451.8" cy="538.8" r="4.25" fill="#0A9C7D"/>
<circle cx="477" cy="547" r="4.25" fill="#0A9C7D"/>
<circle cx="464.2" cy="553.4" r="4.25" fill="#0A9C7D"/>
<circle cx="482.7" cy="459.5" r="4.25" fill="#0A9C7D"/>
<circle cx="509.6" cy="444.8" r="4.25" fill="#0A9C7D"/>
<circle cx="522.9" cy="445.7" r="4.25" fill="#0A9C7D"/>
<circle cx="535.9" cy="473.7" r="4.25" fill="#0A9C7D"/>
<circle cx="492.8" cy="481.7" r="4.25" fill="#0A9C7D"/>
<circle cx="504.8" cy="497.3" r="4.25" fill="#0A9C7D"/>
<circle cx="501.6" cy="519" r="4.25" fill="#0A9C7D"/>
<circle cx="498.1" cy="534" r="4.25" fill="#0A9C7D"/>
<circle cx="546" cy="527.8" r="4.25" fill="#0A9C7D"/>
<circle cx="560.2" cy="532.3" r="4.25" fill="#0A9C7D"/>
<circle cx="568.4" cy="526.4" r="4.25" fill="#0A9C7D"/>
<circle cx="574.1" cy="503.9" r="4.25" fill="#0A9C7D"/>
<circle cx="589.1" cy="500.9" r="4.25" fill="#0A9C7D"/>
<circle cx="516.5" cy="561.1" r="4.25" fill="#0A9C7D"/>
<circle cx="536.8" cy="567.5" r="4.25" fill="#0A9C7D"/>
<circle cx="561.4" cy="569.4" r="4.25" fill="#0A9C7D"/>
<circle cx="483.7" cy="598.8" r="4.25" fill="#0A9C7D"/>
<circle cx="553.1" cy="601.1" r="4.25" fill="#0A9C7D"/>
<circle cx="391.2" cy="610.9" r="4.25" fill="#0A9C7D"/>
<circle cx="456.2" cy="666.6" r="4.25" fill="#0A9C7D"/>
<path d="M445.6 455.4L451.1 465L440.1 465Z" fill="#33468A"/>
<path d="M414.4 482.1L419.9 491.7L408.9 491.7Z" fill="#33468A"/>
<path d="M416.2 524.3L421.7 533.9L410.7 533.9Z" fill="#33468A"/>
<path d="M474.4 488.4L479.9 498L468.9 498Z" fill="#33468A"/>
<path d="M482.3 495L487.8 504.6L476.8 504.6Z" fill="#33468A"/>
<path d="M510.5 491.5L516 501.1L505 501.1Z" fill="#33468A"/>
<path d="M506.1 511.9L511.6 521.5L500.6 521.5Z" fill="#33468A"/>
<path d="M542.1 494.7L547.6 504.3L536.6 504.3Z" fill="#33468A"/>
<path d="M565.2 490.1L570.7 499.7L559.7 499.7Z" fill="#33468A"/>
<path d="M478.4 552.1L483.9 561.7L472.9 561.7Z" fill="#33468A"/>
<path d="M481.3 576.1L486.8 585.7L475.8 585.7Z" fill="#33468A"/>
<path d="M488.8 585.3L494.3 594.9L483.3 594.9Z" fill="#33468A"/>
<path d="M460.3 606.5L465.8 616.1L454.8 616.1Z" fill="#33468A"/>
<path d="M484.2 611.5L489.7 621.1L478.7 621.1Z" fill="#33468A"/>
<path d="M493.1 618.5L498.6 628.1L487.6 628.1Z" fill="#33468A"/>
<path d="M484.8 628.7L490.3 638.3L479.3 638.3Z" fill="#33468A"/>
<path d="M515.2 625.6L520.7 635.2L509.7 635.2Z" fill="#33468A"/>
<path d="M531.9 631.5L537.4 641.1L526.4 641.1Z" fill="#33468A"/>
<path d="M528.5 560.4L534 570L523 570Z" fill="#33468A"/>
<path d="M549.8 558.5L555.3 568.1L544.3 568.1Z" fill="#33468A"/>
<path d="M596 536.3L601.5 545.9L590.5 545.9Z" fill="#33468A"/>
<path d="M595 553L600.5 562.6L589.5 562.6Z" fill="#33468A"/>
<path d="M594 573.1L599.5 582.7L588.5 582.7Z" fill="#33468A"/>
<path d="M614.5 572.1L620 581.7L609 581.7Z" fill="#33468A"/>
<path d="M622.4 590.8L627.9 600.4L616.9 600.4Z" fill="#33468A"/>
<path d="M612.9 595L618.4 604.6L607.4 604.6Z" fill="#33468A"/>
<path d="M625.5 502.7L631 512.3L620 512.3Z" fill="#33468A"/>
<path d="M648 461.3L653.5 470.9L642.5 470.9Z" fill="#33468A"/>
<path d="M686.4 446.6L691.9 456.2L680.9 456.2Z" fill="#33468A"/>
<circle cx="531.8" cy="635.6" r="4.25" fill="#0A9C7D"/>
<ellipse cx="501.5" cy="524.5" rx="59.7" ry="55.4" transform="rotate(57 501.5 524.5)" fill="none" stroke="#0A9C7D" stroke-width="0.9"/>
<ellipse cx="531.2" cy="555.5" rx="75.3" ry="60.8" transform="rotate(-10.9 531.2 555.5)" fill="none" stroke="#33468A" stroke-width="0.9"/>
<text x="377" y="427.8" font-size="9.65" fill="#1A1A1A" stroke="#1A1A1A" stroke-width="0.08">Weighted unifrac</text>
<text x="538.9" y="695.8" font-size="8" fill="#111" stroke="#111" stroke-width="0.12" text-anchor="middle">PC1 (9%)</text>
<text x="713.7" y="544.2" font-size="7.9" fill="#1A1A1A">Type</text>
<circle cx="719.7" cy="555.5" r="4.25" fill="#0A9C7D"/>
<path d="M719.7 562.2L725.2 571.8L714.2 571.8Z" fill="#33468A"/>
<text x="730.1" y="557.9" font-size="6.45" fill="#222">Control</text>
<text x="730.1" y="570.9" font-size="6.45" fill="#222">Intervention</text>
</svg></body></html>
